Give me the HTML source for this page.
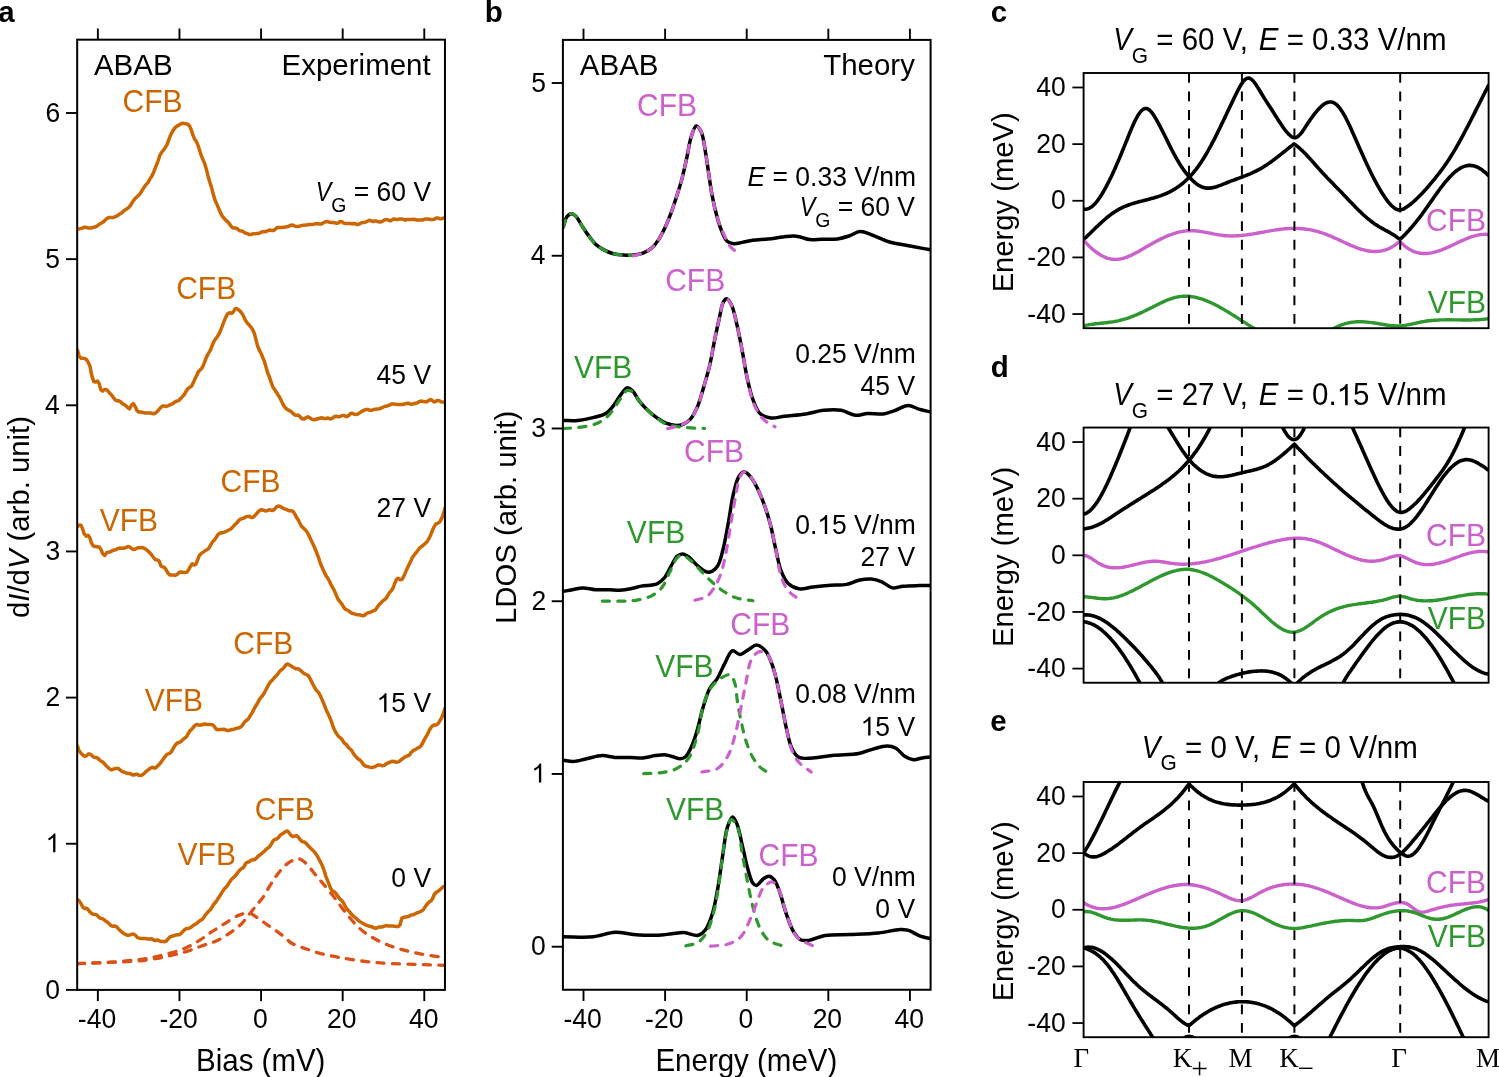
<!DOCTYPE html>
<html><head><meta charset="utf-8"><style>html,body{margin:0;padding:0;background:#fff;overflow:hidden}svg{display:block;will-change:transform;}</style></head>
<body><svg width="1499" height="1077" viewBox="0 0 1499 1077">
<rect width="1499" height="1077" fill="#fff"/>
<defs><clipPath id="ca"><rect x="77.2" y="39.7" width="367.8" height="950.2"/></clipPath><clipPath id="cb"><rect x="562.9" y="39.9" width="367.8" height="949.9"/></clipPath><clipPath id="cc"><rect x="1083.6" y="73" width="405" height="255.2"/></clipPath><clipPath id="cd"><rect x="1083.6" y="427.55" width="405" height="255.2"/></clipPath><clipPath id="ce"><rect x="1083.6" y="782" width="405" height="255.2"/></clipPath></defs>
<g clip-path="url(#ca)">
<path d="M77.50,963.60 C87.67,963.20 97.29,963.15 108.00,962.40 C119.98,961.57 136.46,960.03 146.00,958.60 C151.83,957.73 154.74,957.11 160.00,955.80 C166.98,954.06 177.05,951.50 184.10,948.60 C190.03,946.16 194.99,943.16 199.80,940.20 C204.18,937.50 207.74,934.47 211.90,931.70 C216.19,928.84 220.76,926.03 225.20,923.30 C229.59,920.60 234.07,917.12 238.40,915.40 C242.09,913.94 246.13,912.50 249.30,913.00 C252.04,913.43 253.83,915.49 256.50,917.20 C260.06,919.48 264.56,922.88 268.60,925.70 C272.63,928.51 276.73,931.12 280.70,934.10 C284.76,937.15 288.29,941.28 292.70,943.80 C297.12,946.32 302.50,947.55 307.20,949.20 C311.58,950.73 315.29,952.14 320.00,953.40 C325.61,954.90 331.45,956.03 338.70,957.30 C348.63,959.05 360.31,961.11 374.20,962.40 C393.73,964.21 421.40,964.40 445.00,965.40" fill="none" stroke="#DA5218" stroke-width="3.30" stroke-linejoin="round" stroke-linecap="round" stroke-dasharray="7.1 8.3"/>
<path d="M77.50,963.60 C100.33,962.40 126.57,962.49 146.00,960.00 C160.63,958.13 174.02,955.01 184.10,952.20 C190.94,950.29 195.47,948.13 201.00,946.20 C206.33,944.34 211.79,943.07 216.70,940.80 C221.44,938.61 225.78,935.82 230.00,932.90 C234.21,929.99 238.65,926.65 242.00,923.30 C244.92,920.38 246.88,917.23 249.30,914.20 C251.71,911.19 254.18,908.03 256.50,905.20 C258.60,902.63 260.59,900.72 262.60,897.90 C265.04,894.47 267.36,889.78 269.80,885.90 C272.16,882.15 274.28,878.54 277.00,875.00 C279.88,871.26 283.35,866.81 286.70,864.10 C289.42,861.89 292.80,860.11 295.10,859.30 C296.53,858.79 297.47,858.44 298.80,858.70 C300.62,859.05 302.66,860.50 304.80,862.30 C308.11,865.09 312.72,871.50 315.70,875.00 C317.79,877.46 318.86,878.74 321.00,881.30 C324.31,885.26 329.27,891.02 333.60,896.50 C338.50,902.70 343.52,910.60 348.80,916.70 C353.68,922.34 358.04,927.51 364.00,932.00 C370.56,936.94 378.89,941.24 386.90,944.60 C394.95,947.98 403.15,950.08 412.20,952.20 C422.36,954.58 434.07,955.93 445.00,957.80" fill="none" stroke="#DA5218" stroke-width="3.30" stroke-linejoin="round" stroke-linecap="round" stroke-dasharray="7.1 8.3"/>
<path d="M77.5,228.9 79.3,228.9 81.4,228.4 83.1,227.7 84.9,227.2 86.6,227.6 88.7,228.1 90.4,228.1 92.0,227.8 93.7,227.3 95.7,226.8 97.5,225.7 99.4,224.2 101.1,223.3 103.0,222.1 104.7,220.6 106.6,218.7 108.6,217.6 110.6,217.5 112.4,217.5 114.2,217.2 116.1,216.4 118.0,215.3 119.8,213.9 121.7,212.8 123.6,211.2 125.5,209.6 127.5,208.5 129.3,206.9 131.0,204.6 132.7,201.7 134.5,199.2 136.2,197.5 137.8,196.1 139.4,194.5 141.3,191.9 143.1,188.9 144.8,186.1 146.5,184.2 148.1,182.3 149.7,179.4 151.6,176.4 153.4,172.9 155.0,168.6 156.6,164.8 158.2,160.6 159.8,155.5 161.6,152.3 163.5,150.1 165.1,147.7 166.9,144.8 168.5,140.6 170.2,136.0 171.8,132.8 173.6,129.7 175.3,127.4 177.1,126.1 179.0,125.1 180.9,123.8 182.5,123.2 184.2,123.5 185.9,123.7 187.9,124.3 189.6,126.1 191.2,129.8 192.9,134.8 194.6,139.1 196.3,141.6 197.9,145.0 199.6,150.3 201.2,155.4 202.8,159.2 204.5,162.9 206.2,168.7 208.0,175.9 209.7,181.7 211.5,187.4 213.2,194.1 214.9,199.7 216.7,203.9 218.4,207.8 220.1,211.7 221.7,215.2 223.5,217.7 225.2,219.7 226.9,221.1 228.7,222.7 230.5,225.5 232.4,227.7 234.4,228.0 236.1,227.9 238.0,229.4 239.9,230.8 241.8,230.9 243.8,232.1 245.6,233.2 247.4,233.4 249.0,234.4 250.9,234.5 252.8,233.8 254.8,233.7 256.4,233.6 258.0,233.4 259.8,233.1 261.6,232.0 263.6,231.6 265.7,231.8 267.7,230.8 269.8,230.0 271.8,230.6 273.8,230.4 275.7,228.7 277.5,227.5 279.4,227.5 281.3,227.4 283.2,227.3 285.3,227.2 286.9,226.7 288.9,226.2 290.8,225.3 292.8,225.1 294.8,226.1 296.9,226.6 299.1,226.2 301.2,225.6 303.3,225.2 305.3,225.1 307.3,224.9 309.4,224.5 311.5,224.4 313.5,224.2 315.6,223.8 317.6,223.6 319.5,223.9 321.5,223.9 323.5,222.8 325.5,221.8 327.5,221.6 329.6,222.2 331.7,222.6 333.8,222.5 335.8,223.2 337.9,223.2 339.9,221.6 341.9,221.7 343.8,223.1 345.4,223.6 347.5,223.5 349.6,223.4 351.6,223.7 353.5,223.6 355.5,223.8 357.5,224.7 359.5,223.9 361.5,222.7 363.4,222.5 365.3,222.3 367.3,221.3 369.3,220.2 371.4,220.9 373.0,221.6 374.6,220.9 376.5,221.1 378.4,221.8 380.3,222.1 382.3,221.4 384.4,219.9 386.5,219.6 388.6,220.1 390.2,220.8 391.8,220.1 393.4,219.0 395.5,219.3 397.4,219.4 399.3,219.1 401.2,218.9 403.2,219.4 405.2,220.0 407.2,219.5 409.2,219.4 411.3,219.6 413.5,219.3 415.1,219.4 416.7,220.1 418.7,219.9 420.8,219.9 422.4,220.1 424.1,219.3 425.8,219.1 427.6,219.1 429.4,219.2 431.1,219.6 432.9,219.6 434.6,219.1 436.2,218.0 438.3,218.1 440.3,218.9 442.0,218.6 443.8,218.0 445.0,217.8" fill="none" stroke="#CC6600" stroke-width="3.50" stroke-linejoin="round" stroke-linecap="round"/>
<path d="M77.5,350.3 79.2,356.3 81.1,358.2 82.8,358.2 84.7,358.6 86.6,359.8 88.3,362.4 90.0,366.3 91.6,374.9 93.7,381.5 95.6,382.0 97.5,381.0 99.2,383.7 100.8,389.6 102.6,391.1 104.6,389.5 106.2,389.4 108.1,391.3 109.8,393.2 111.6,395.0 113.5,397.7 115.2,399.9 116.9,400.8 118.6,400.8 120.3,401.6 122.2,403.5 124.2,404.6 125.9,405.7 127.9,407.7 129.6,408.8 131.5,405.1 133.4,403.6 135.2,406.6 137.1,410.7 138.8,412.1 140.6,412.0 142.8,412.5 144.5,412.9 146.1,413.0 148.1,413.0 149.8,412.9 151.4,413.3 153.5,413.8 155.3,413.1 157.1,411.7 158.9,409.7 160.7,407.5 162.5,406.1 164.3,406.1 166.3,406.4 168.4,405.6 170.4,404.7 172.2,404.0 173.9,402.8 175.7,401.5 177.4,401.0 179.0,400.3 180.9,398.3 182.7,396.4 184.6,394.1 186.3,390.9 188.0,388.4 189.9,387.3 191.8,385.8 193.5,382.3 195.1,378.6 196.8,375.2 198.4,371.8 200.2,369.9 202.0,368.1 203.7,364.4 205.4,359.8 207.1,355.8 208.7,353.0 210.5,349.8 212.2,345.5 213.8,341.7 215.6,338.9 217.3,336.7 219.0,334.0 220.7,330.2 222.3,326.0 224.1,321.1 225.7,317.4 227.7,313.9 229.7,312.8 231.7,313.4 233.5,311.7 235.1,308.8 236.8,308.5 238.5,309.9 240.3,311.4 242.0,313.5 243.7,316.5 245.5,320.4 247.2,323.0 249.0,324.8 250.7,326.8 252.5,329.5 254.3,333.3 255.9,339.4 257.7,346.3 259.3,350.1 261.1,353.5 262.7,357.4 264.4,361.4 266.1,367.3 267.7,373.0 269.5,377.2 271.2,382.4 273.1,387.5 274.9,390.0 276.7,392.7 278.6,395.7 280.3,398.7 282.0,402.2 283.9,405.9 285.6,408.1 287.4,409.5 289.4,410.6 291.0,411.4 292.7,413.0 294.4,414.7 296.2,415.2 298.0,415.1 299.9,416.5 302.0,418.7 304.1,419.1 305.9,417.7 307.9,416.8 310.0,418.0 312.1,419.4 313.7,419.8 315.8,419.3 317.9,418.8 319.9,418.3 321.9,417.8 324.0,418.5 326.0,418.5 328.0,418.0 330.1,418.9 332.1,418.6 334.1,416.7 336.2,416.2 338.2,416.7 340.3,416.4 342.4,415.5 344.4,415.6 346.4,416.6 348.3,415.8 350.4,413.6 352.4,413.3 354.3,414.3 356.3,414.5 358.1,413.9 360.0,412.6 362.0,411.2 364.0,410.3 366.0,409.4 367.9,409.5 370.0,410.3 372.0,410.2 373.6,409.5 375.6,409.2 377.5,409.1 379.4,408.7 381.4,408.0 383.4,407.0 385.4,406.2 387.4,405.9 389.4,405.1 391.4,404.1 393.5,404.0 395.5,404.2 397.5,404.4 399.5,404.4 401.6,404.4 403.6,404.2 405.6,403.6 407.7,403.2 409.9,403.8 411.5,404.3 413.6,403.8 415.6,403.2 417.6,402.7 419.4,401.6 421.0,401.1 423.1,401.4 424.9,401.7 426.7,401.7 428.8,400.4 430.4,399.4 432.4,400.6 434.0,402.0 435.8,401.4 437.6,400.4 439.3,400.8 440.9,401.8 442.9,402.1 444.7,402.3 445.0,403.0" fill="none" stroke="#CC6600" stroke-width="3.50" stroke-linejoin="round" stroke-linecap="round"/>
<path d="M77.5,526.6 79.2,525.1 80.9,525.3 82.5,528.6 84.1,533.7 86.2,536.2 88.0,535.2 89.8,537.5 91.4,542.9 93.2,545.8 95.1,546.6 97.2,546.7 99.2,547.0 101.0,549.6 102.7,553.7 104.7,555.5 106.5,552.9 108.4,552.0 110.1,552.0 112.2,550.7 114.2,550.0 116.2,549.6 117.8,548.6 119.9,548.0 122.0,548.3 124.0,548.2 126.0,547.5 127.9,546.6 129.7,546.9 131.5,548.5 133.4,549.5 135.4,549.0 137.0,548.1 138.6,547.7 140.7,547.7 142.5,547.5 144.5,548.4 146.3,549.7 148.1,551.1 149.9,553.0 151.8,555.0 153.4,557.4 155.5,559.7 157.5,560.1 159.2,561.1 160.9,565.9 162.8,566.8 164.5,567.5 166.3,570.1 168.1,573.3 169.8,575.0 171.6,575.1 173.3,574.9 175.0,575.4 177.0,574.7 178.9,572.6 180.6,572.0 182.5,572.3 184.6,572.6 186.6,572.3 188.4,570.2 190.3,566.6 192.3,563.8 194.4,565.1 196.0,564.0 197.7,559.7 199.3,555.7 201.3,553.4 203.3,552.1 205.3,550.5 207.3,549.6 209.0,548.0 210.7,545.0 212.4,542.2 214.2,540.1 216.0,537.7 217.9,534.7 219.6,533.2 221.7,532.8 223.6,532.5 225.5,531.7 227.5,530.7 229.3,529.8 231.1,528.8 232.9,526.9 234.5,525.1 236.2,523.5 238.0,521.5 239.9,519.4 241.6,518.8 243.5,518.3 245.4,517.0 247.2,516.6 249.3,516.2 251.0,517.3 252.8,517.6 254.6,515.9 256.4,513.8 258.1,511.8 259.9,510.3 261.6,509.8 263.3,510.2 265.2,510.9 267.0,510.7 269.0,509.8 270.8,510.1 272.8,510.5 274.6,509.2 276.5,506.8 278.3,506.0 280.2,506.7 282.3,507.7 283.9,508.7 286.0,509.4 287.6,510.0 289.3,510.8 291.3,510.8 293.1,511.4 294.8,514.0 296.5,517.4 298.3,520.0 299.9,523.3 301.5,526.3 303.3,527.9 305.2,529.7 307.0,532.0 308.7,535.0 310.3,538.5 312.1,542.3 313.9,546.0 315.5,549.8 317.1,553.8 318.9,558.7 320.6,564.0 322.5,568.3 324.2,572.1 325.9,575.6 327.7,578.0 329.5,581.3 331.2,585.1 333.0,588.2 334.6,591.1 336.2,595.0 338.0,599.1 339.7,601.4 341.6,603.7 343.5,606.9 345.2,609.1 347.0,610.0 348.8,611.0 350.6,612.4 352.4,613.4 354.3,613.9 356.2,614.5 358.2,614.7 360.2,615.0 362.1,615.7 364.0,615.5 366.1,613.9 368.0,612.8 369.8,612.5 371.8,611.6 373.7,610.7 375.6,609.7 377.3,607.3 379.0,604.8 380.6,603.3 382.3,601.3 384.2,599.9 386.3,598.1 388.0,595.1 389.8,592.2 391.5,590.6 393.3,587.5 394.9,582.9 396.6,579.3 398.3,578.3 400.3,579.8 402.1,579.4 403.9,576.1 405.6,572.1 407.3,568.2 409.1,564.4 410.8,560.9 412.4,557.6 414.2,555.0 415.9,552.9 417.6,550.7 419.3,548.4 421.2,546.7 423.2,545.3 425.1,543.6 427.0,541.8 428.8,538.9 430.5,535.3 432.1,531.3 433.9,527.1 435.7,524.2 437.6,523.3 439.4,522.3 441.1,519.5 442.8,515.6 444.4,510.9 445.0,508.0" fill="none" stroke="#CC6600" stroke-width="3.50" stroke-linejoin="round" stroke-linecap="round"/>
<path d="M77.5,746.4 79.3,751.2 81.0,753.2 82.8,755.0 84.7,756.4 86.4,755.9 88.1,754.1 89.7,753.9 91.6,755.2 93.5,756.9 95.2,757.6 96.8,757.6 98.6,759.0 100.4,760.8 102.2,761.7 103.9,763.1 105.6,765.2 107.2,766.7 109.2,768.6 111.2,769.9 112.9,769.3 114.9,768.6 116.7,768.4 118.5,768.6 120.4,770.2 122.4,771.6 124.4,772.2 126.3,773.0 128.4,773.6 130.1,773.5 131.7,774.5 133.7,775.1 135.5,774.3 137.2,774.2 138.8,775.3 141.0,775.6 142.9,774.5 144.8,772.8 146.7,770.9 148.6,769.6 150.3,768.2 152.3,767.2 154.3,768.1 156.1,767.7 157.8,765.7 159.7,763.9 161.5,761.5 163.1,759.2 164.9,756.9 166.7,754.5 168.7,753.7 170.6,752.7 172.4,750.0 174.0,747.0 175.7,744.6 177.3,743.0 179.0,742.5 180.9,741.6 182.8,739.6 184.7,738.1 186.6,736.6 188.3,733.5 189.9,730.8 191.6,729.4 193.2,727.5 195.2,725.1 197.1,724.5 199.1,725.2 201.2,725.1 203.2,724.3 205.4,724.1 207.1,724.4 208.7,724.6 210.7,724.6 212.6,724.7 214.2,726.2 215.9,728.9 217.8,729.8 219.6,729.5 221.7,729.5 223.3,729.2 225.0,729.5 226.7,730.4 228.7,730.5 230.8,729.8 232.4,729.5 234.1,729.2 236.2,728.4 238.1,728.1 239.8,727.5 241.8,726.1 243.6,723.5 245.3,721.2 247.1,720.0 248.8,718.2 250.6,715.2 252.4,712.3 254.2,708.7 256.1,705.5 257.7,702.9 259.3,699.7 261.0,697.3 262.6,695.5 264.4,692.8 266.2,689.3 268.0,685.8 269.8,682.7 271.6,680.8 273.2,679.1 274.8,677.2 276.5,675.6 278.3,673.2 280.1,670.8 282.0,669.4 284.0,667.5 285.9,664.9 287.8,663.9 289.9,665.2 291.5,666.4 293.6,667.5 295.6,668.7 297.4,668.7 299.1,669.2 300.7,670.6 302.4,672.2 304.2,673.7 305.8,674.3 307.5,675.0 309.1,676.7 310.8,680.1 312.5,683.5 314.3,686.8 316.1,689.9 317.7,691.5 319.3,693.7 321.1,697.4 322.8,701.4 324.5,705.4 326.1,709.7 327.9,713.5 329.6,717.1 331.4,721.6 333.1,726.7 334.7,730.4 336.5,733.6 338.4,736.3 340.1,737.6 341.8,739.2 343.5,742.0 345.1,743.7 346.8,745.0 348.4,747.5 350.1,749.0 351.7,750.5 353.4,753.5 355.1,755.8 356.8,757.6 358.4,759.1 360.2,760.3 361.9,762.2 363.7,764.8 365.3,766.0 367.2,766.5 369.2,767.1 370.9,767.4 372.5,767.4 374.2,767.0 376.2,766.0 378.3,764.9 380.4,765.1 382.4,765.8 384.3,765.4 386.4,763.7 388.3,762.7 390.1,762.2 391.9,761.2 393.9,761.5 395.8,762.2 397.8,762.0 399.5,761.2 401.4,759.7 403.0,758.4 404.7,757.2 406.4,756.1 408.0,755.8 409.7,754.7 411.5,752.1 413.4,750.4 415.3,749.6 417.1,748.4 418.7,747.7 420.6,746.3 422.3,743.8 424.0,740.4 425.6,737.4 427.4,734.3 429.0,730.9 430.7,728.0 432.5,725.8 434.4,724.9 436.2,725.0 437.9,723.9 439.6,721.2 441.3,718.4 443.1,714.2 444.8,709.1 445.0,708.3" fill="none" stroke="#CC6600" stroke-width="3.50" stroke-linejoin="round" stroke-linecap="round"/>
<path d="M77.5,899.7 79.2,901.0 80.8,903.2 82.7,907.1 84.5,908.5 86.4,908.2 88.1,909.5 89.8,911.9 91.5,913.4 93.2,914.2 95.0,914.4 96.8,915.0 98.6,916.9 100.4,918.3 102.1,918.6 103.8,919.6 105.6,921.0 107.3,922.0 109.3,923.9 111.3,925.8 113.3,926.3 115.0,926.0 116.7,926.8 118.6,929.0 120.3,930.7 122.0,932.1 123.7,933.4 125.7,934.6 127.8,935.2 129.8,934.9 131.8,934.3 133.7,934.1 135.6,935.4 137.5,937.6 139.4,938.2 141.3,938.4 143.3,938.6 145.4,938.4 147.4,939.1 149.4,939.1 151.6,938.7 153.7,940.0 155.7,940.5 157.3,939.9 159.0,940.6 160.7,941.4 162.8,941.5 164.7,941.7 166.5,940.9 168.3,938.7 170.1,936.8 171.8,936.2 173.7,935.8 175.9,934.9 177.7,934.7 179.4,934.7 181.2,933.3 183.1,931.2 184.9,929.4 186.6,928.6 188.5,928.4 190.1,927.8 191.8,926.7 193.4,925.3 195.0,924.3 196.7,923.5 198.4,921.8 200.1,920.5 201.8,919.7 203.5,917.9 205.1,915.4 206.8,913.2 208.4,911.5 210.3,909.7 212.1,907.0 214.0,904.0 215.8,902.0 217.5,899.4 219.2,896.7 220.8,894.4 222.4,891.7 224.1,889.1 225.9,887.4 227.8,885.0 229.7,881.9 231.6,879.3 233.2,877.8 235.1,876.1 237.0,873.6 238.7,871.3 240.5,869.3 242.4,868.3 244.0,866.7 245.6,863.4 247.3,862.2 249.3,861.7 251.0,860.3 252.9,859.6 254.7,859.7 256.5,858.0 258.3,856.0 260.3,854.7 262.1,853.1 264.0,851.6 265.8,849.7 267.7,848.1 269.5,846.8 271.3,844.1 273.1,840.9 274.9,839.3 276.6,839.1 278.3,837.7 279.9,835.4 281.5,834.3 283.5,833.2 285.5,831.6 287.4,830.9 289.1,832.7 290.9,835.3 292.7,836.4 294.6,836.1 296.5,835.7 298.4,837.2 300.2,839.8 302.2,841.6 304.2,842.0 306.2,843.3 308.1,845.7 309.9,847.5 311.8,849.2 313.6,851.1 315.4,853.2 317.2,855.9 318.9,859.1 320.6,862.3 322.2,865.4 323.8,869.6 325.6,875.5 327.3,880.0 329.0,884.1 330.7,888.5 332.5,891.1 334.2,891.7 336.2,893.7 337.9,896.4 339.7,898.8 341.6,900.4 343.5,902.7 345.3,906.4 347.1,909.3 349.0,911.2 350.8,913.4 352.5,915.4 354.3,917.0 356.1,918.3 357.9,920.0 359.9,921.7 361.9,922.7 363.8,923.8 365.6,924.9 367.6,925.6 369.5,926.3 371.5,926.7 373.6,927.7 375.6,928.4 377.5,927.7 379.6,926.9 381.7,927.0 383.8,926.5 385.9,925.6 387.5,925.7 389.2,926.1 390.8,925.9 392.8,926.0 394.5,926.3 396.5,926.5 398.3,926.5 400.0,924.7 401.8,918.3 403.7,917.2 405.7,917.0 407.4,916.8 409.1,916.2 411.0,915.0 412.8,914.7 414.8,914.1 416.7,912.9 418.5,912.3 420.3,911.7 422.0,910.8 423.7,909.2 425.6,906.1 427.4,903.8 429.3,901.9 430.9,901.0 432.5,898.8 434.3,894.5 436.2,892.3 438.0,891.3 439.8,889.8 441.9,888.0 443.7,886.4 445.0,886.6" fill="none" stroke="#CC6600" stroke-width="3.50" stroke-linejoin="round" stroke-linecap="round"/>
</g>
<g clip-path="url(#cb)">
<path d="M563.30,227.00 C564.43,223.67 565.00,219.27 566.70,217.00 C567.96,215.32 569.82,213.78 571.40,213.70 C572.89,213.62 574.47,214.85 575.90,216.20 C577.98,218.17 579.67,222.28 581.70,225.40 C583.83,228.68 586.10,232.27 588.40,235.40 C590.57,238.35 592.56,241.31 595.10,243.70 C597.58,246.03 600.40,247.94 603.40,249.60 C606.51,251.32 610.08,252.88 613.50,253.80 C616.78,254.68 620.16,254.88 623.50,255.10 C626.83,255.32 630.18,255.46 633.50,255.10 C636.88,254.74 640.49,254.14 643.60,252.90 C646.61,251.70 649.44,250.04 651.90,247.90 C654.48,245.65 656.51,242.77 658.60,239.60 C661.02,235.94 663.18,231.56 665.30,227.00 C667.68,221.88 670.00,215.75 672.00,210.30 C673.87,205.19 675.37,200.45 677.00,195.30 C678.71,189.90 680.42,184.56 682.00,178.60 C683.78,171.84 685.44,163.92 687.00,156.80 C688.49,150.00 689.36,142.38 691.20,136.80 C692.61,132.53 694.31,126.16 696.20,125.90 C697.72,125.69 699.84,129.02 701.20,131.80 C703.41,136.32 704.17,144.97 705.40,151.80 C706.68,158.89 707.58,166.34 708.70,173.60 C709.82,180.84 710.71,188.09 712.10,195.30 C713.50,202.56 715.26,210.47 717.10,217.00 C718.65,222.50 720.22,227.68 722.10,232.00 C723.63,235.52 724.87,239.26 727.10,241.20 C728.95,242.80 731.41,243.46 733.80,243.70 C736.41,243.97 739.25,242.92 742.20,242.40 C745.51,241.81 748.86,240.85 752.70,240.30 C757.28,239.65 762.85,239.55 767.90,239.00 C772.95,238.45 778.43,237.52 783.00,237.00 C786.78,236.57 790.21,235.90 793.40,236.00 C796.14,236.08 798.41,236.63 801.00,237.20 C803.77,237.81 806.36,239.20 809.50,239.60 C813.23,240.07 817.62,239.41 822.00,239.30 C826.87,239.18 832.66,239.55 837.40,238.90 C841.57,238.33 845.22,237.22 849.00,236.00 C852.78,234.78 856.30,231.79 860.10,231.60 C863.97,231.41 867.73,233.53 872.00,235.00 C877.16,236.78 882.78,240.00 888.80,241.80 C895.37,243.76 902.95,244.65 910.00,246.00 C917.01,247.35 924.00,248.60 931.00,249.90" fill="none" stroke="#000" stroke-width="3.50" stroke-linejoin="round" stroke-linecap="round"/>
<path d="M563.30,227.00 C564.43,223.67 565.00,219.27 566.70,217.00 C567.96,215.32 569.82,213.78 571.40,213.70 C572.89,213.62 574.47,214.85 575.90,216.20 C577.98,218.17 579.67,222.28 581.70,225.40 C583.83,228.68 586.10,232.27 588.40,235.40 C590.57,238.35 592.56,241.31 595.10,243.70 C597.58,246.03 600.40,247.94 603.40,249.60 C606.51,251.32 610.08,252.88 613.50,253.80 C616.78,254.68 620.16,254.80 623.50,255.10 C626.83,255.40 630.17,255.43 633.50,255.60" fill="none" stroke="#2E982E" stroke-width="3.20" stroke-linejoin="round" stroke-linecap="round" stroke-dasharray="7.1 8.3"/>
<path d="M633.50,255.60 C636.87,254.70 640.48,254.22 643.60,252.90 C646.60,251.63 649.44,250.04 651.90,247.90 C654.48,245.65 656.51,242.77 658.60,239.60 C661.02,235.94 663.18,231.56 665.30,227.00 C667.68,221.88 670.00,215.75 672.00,210.30 C673.87,205.19 675.37,200.45 677.00,195.30 C678.71,189.90 680.42,184.56 682.00,178.60 C683.78,171.84 685.44,163.92 687.00,156.80 C688.49,150.00 689.36,142.38 691.20,136.80 C692.61,132.53 694.31,126.16 696.20,125.90 C697.72,125.69 699.84,129.02 701.20,131.80 C703.41,136.32 704.17,144.97 705.40,151.80 C706.68,158.89 707.58,166.34 708.70,173.60 C709.82,180.84 710.71,188.09 712.10,195.30 C713.50,202.56 715.02,210.26 717.10,217.00 C718.99,223.14 721.40,228.98 723.80,234.20 C725.91,238.79 727.83,243.53 730.50,246.80 C732.70,249.50 735.50,250.93 738.00,253.00" fill="none" stroke="#CC60CC" stroke-width="3.20" stroke-linejoin="round" stroke-linecap="round" stroke-dasharray="7.1 8.3"/>
<path d="M563.30,420.50 C568.07,420.50 572.86,420.93 577.60,420.50 C582.36,420.07 587.11,419.06 591.80,417.90 C596.54,416.73 602.22,415.74 605.90,413.50 C608.92,411.66 610.68,409.11 612.90,406.40 C615.41,403.34 617.54,399.09 620.00,395.90 C622.25,392.98 624.65,388.35 627.00,387.90 C628.76,387.56 630.59,389.09 632.30,390.60 C634.79,392.80 636.78,397.76 639.40,401.10 C642.07,404.50 645.15,407.92 648.20,410.80 C651.03,413.47 653.98,415.80 657.00,417.90 C659.89,419.91 662.70,421.94 665.90,423.20 C669.16,424.49 673.24,425.47 676.40,425.50 C678.99,425.53 681.24,425.10 683.50,424.10 C686.00,422.99 688.47,421.23 690.60,418.80 C693.31,415.73 695.49,411.29 697.60,406.40 C700.34,400.05 702.56,390.83 704.70,383.50 C706.66,376.78 708.43,370.87 710.00,364.10 C711.69,356.81 712.82,348.97 714.40,341.20 C716.04,333.11 718.07,323.59 719.70,316.50 C720.94,311.11 721.53,305.31 723.20,302.30 C724.17,300.56 725.40,298.74 726.60,298.80 C728.13,298.88 730.05,302.14 731.50,305.00 C733.86,309.66 735.38,318.05 737.10,325.30 C739.05,333.51 740.67,342.82 742.40,351.80 C744.18,361.05 745.66,371.51 747.60,380.00 C749.22,387.11 750.65,393.55 752.90,399.40 C754.89,404.58 756.67,410.41 760.00,413.50 C762.84,416.14 766.74,417.37 770.60,417.90 C774.89,418.49 779.52,416.79 784.70,416.20 C791.05,415.47 799.19,414.95 805.90,413.90 C812.06,412.94 817.59,410.90 823.50,410.30 C829.36,409.71 835.71,409.36 841.20,410.30 C846.25,411.17 850.71,414.85 855.30,415.30 C859.49,415.71 863.23,413.76 867.60,413.50 C872.55,413.20 878.78,414.50 883.50,413.90 C887.43,413.40 890.34,412.14 894.10,410.90 C898.49,409.46 903.82,405.69 908.20,405.60 C911.97,405.52 915.12,408.04 918.80,409.10 C922.70,410.22 926.93,411.10 931.00,412.10" fill="none" stroke="#000" stroke-width="3.50" stroke-linejoin="round" stroke-linecap="round"/>
<path d="M563.50,428.50 C568.20,428.20 572.66,428.24 577.60,427.60 C583.19,426.87 590.29,426.00 595.30,424.10 C599.44,422.53 602.89,420.37 605.90,417.90 C608.69,415.61 610.65,412.91 612.90,410.00 C615.37,406.80 617.57,402.72 620.00,399.40 C622.28,396.28 624.54,391.52 627.00,390.60 C628.71,389.97 630.60,390.54 632.30,391.60 C634.82,393.17 636.83,397.98 639.40,401.10 C642.10,404.38 645.15,407.92 648.20,410.80 C651.03,413.47 654.01,415.68 657.00,417.90 C659.92,420.07 662.24,422.48 665.90,424.00 C670.62,425.96 677.34,426.55 683.50,427.30 C690.21,428.12 697.63,428.10 704.70,428.50" fill="none" stroke="#2E982E" stroke-width="3.20" stroke-linejoin="round" stroke-linecap="round" stroke-dasharray="7.1 8.3"/>
<path d="M667.60,428.50 C670.53,427.83 673.64,427.28 676.40,426.50 C678.91,425.79 681.22,425.30 683.50,424.10 C685.97,422.80 688.47,421.23 690.60,418.80 C693.31,415.73 695.49,411.29 697.60,406.40 C700.34,400.05 702.56,390.83 704.70,383.50 C706.66,376.78 708.43,370.87 710.00,364.10 C711.69,356.81 712.82,348.97 714.40,341.20 C716.04,333.11 718.07,323.59 719.70,316.50 C720.94,311.11 721.53,305.31 723.20,302.30 C724.17,300.56 725.40,298.74 726.60,298.80 C728.13,298.88 730.05,302.14 731.50,305.00 C733.86,309.66 735.38,318.05 737.10,325.30 C739.05,333.51 740.67,342.82 742.40,351.80 C744.18,361.05 745.71,371.30 747.60,380.00 C749.25,387.60 750.58,394.96 752.90,401.20 C754.87,406.50 757.29,411.58 760.00,415.30 C762.15,418.25 764.53,420.36 767.10,422.30 C769.55,424.16 772.37,425.30 775.00,426.80" fill="none" stroke="#CC60CC" stroke-width="3.20" stroke-linejoin="round" stroke-linecap="round" stroke-dasharray="7.1 8.3"/>
<path d="M563.30,591.40 C566.30,590.83 569.17,590.26 572.30,589.70 C575.69,589.09 579.22,587.94 582.90,587.90 C586.87,587.85 591.02,589.39 595.30,589.70 C599.84,590.03 605.04,589.60 609.40,589.70 C613.19,589.79 616.47,590.35 620.00,590.20 C623.54,590.05 627.09,589.48 630.60,588.80 C634.15,588.12 637.29,586.88 641.20,586.10 C645.92,585.16 652.94,585.54 657.00,583.80 C660.05,582.49 661.95,580.70 664.10,578.20 C666.81,575.06 668.88,569.66 671.20,565.80 C673.27,562.35 674.99,558.02 677.30,556.10 C678.93,554.75 680.78,553.93 682.60,554.00 C684.60,554.07 686.68,555.50 688.80,557.00 C691.64,559.02 694.74,563.32 697.60,565.80 C700.02,567.89 702.39,570.11 704.70,571.10 C706.50,571.87 708.18,572.47 710.00,572.00 C712.44,571.37 715.58,568.80 717.60,565.90 C720.25,562.09 721.30,556.03 722.90,550.00 C724.93,542.34 726.48,532.62 728.20,523.50 C730.02,513.82 731.41,501.99 733.50,493.50 C735.08,487.06 736.44,480.55 738.80,476.80 C740.32,474.38 742.17,471.87 744.10,471.80 C746.26,471.72 749.05,475.05 751.20,477.60 C753.88,480.78 756.00,485.43 758.20,490.00 C760.74,495.28 763.22,501.68 765.30,507.60 C767.35,513.44 768.95,518.87 770.60,525.30 C772.53,532.81 774.06,542.10 775.90,550.00 C777.61,557.35 778.81,565.23 781.20,571.20 C783.13,576.01 785.07,580.53 788.20,583.50 C791.07,586.22 794.90,588.14 798.80,588.80 C803.07,589.52 807.93,587.56 812.90,587.00 C818.46,586.38 824.85,585.74 830.60,585.30 C836.04,584.89 841.60,585.34 846.50,584.40 C850.92,583.55 854.64,581.18 858.80,580.30 C862.88,579.43 867.25,578.80 871.20,579.10 C874.90,579.38 878.37,580.40 881.80,581.80 C885.41,583.28 888.67,587.23 892.30,587.90 C895.72,588.53 899.00,586.59 902.90,586.20 C907.65,585.73 913.85,585.69 918.80,585.60 C923.13,585.52 926.93,585.60 931.00,585.60" fill="none" stroke="#000" stroke-width="3.50" stroke-linejoin="round" stroke-linecap="round"/>
<path d="M602.30,601.10 C608.80,601.10 615.83,601.27 621.80,601.10 C626.88,600.96 631.11,601.11 635.90,600.30 C641.06,599.43 647.17,598.19 651.70,595.80 C655.85,593.61 659.41,590.64 662.30,587.00 C665.40,583.11 667.05,577.60 669.40,572.90 C671.75,568.20 673.82,561.87 676.40,558.80 C678.07,556.82 679.68,554.97 681.70,554.90 C684.26,554.82 687.64,558.22 690.60,560.60 C694.11,563.42 697.59,567.59 701.10,571.10 C704.62,574.62 708.09,578.41 711.70,581.70 C715.16,584.86 718.45,587.89 722.30,590.50 C726.29,593.21 730.49,595.90 735.30,597.60 C740.59,599.47 747.03,599.73 752.90,600.80" fill="none" stroke="#2E982E" stroke-width="3.20" stroke-linejoin="round" stroke-linecap="round" stroke-dasharray="7.1 8.3"/>
<path d="M695.00,600.30 C698.80,599.10 703.26,598.72 706.40,596.70 C709.36,594.80 711.34,591.99 713.50,588.80 C716.13,584.92 718.55,580.00 720.50,574.70 C722.80,568.46 724.17,561.32 725.80,553.50 C727.77,544.01 729.39,531.63 731.10,521.70 C732.61,512.94 733.94,504.80 735.50,497.00 C736.92,489.91 737.81,481.11 740.00,476.80 C741.24,474.35 742.71,471.92 744.40,471.80 C746.36,471.66 749.12,475.07 751.20,477.60 C753.83,480.79 756.00,485.43 758.20,490.00 C760.74,495.28 763.22,501.68 765.30,507.60 C767.35,513.44 768.95,518.87 770.60,525.30 C772.53,532.81 774.30,541.99 775.90,550.00 C777.41,557.53 778.30,565.64 780.00,572.00 C781.35,577.05 782.57,581.48 784.70,585.30 C786.61,588.72 789.17,591.69 791.80,594.10 C794.21,596.31 797.07,597.63 799.70,599.40" fill="none" stroke="#CC60CC" stroke-width="3.20" stroke-linejoin="round" stroke-linecap="round" stroke-dasharray="7.1 8.3"/>
<path d="M563.30,760.20 C566.60,760.60 569.67,761.53 573.20,761.40 C577.32,761.25 581.88,759.72 586.50,758.80 C591.54,757.80 597.34,755.74 602.30,755.60 C606.67,755.48 610.30,757.05 614.70,757.40 C619.66,757.79 625.64,757.51 630.60,757.60 C634.96,757.68 638.81,758.23 642.90,757.90 C647.04,757.57 651.31,756.10 655.30,755.60 C658.96,755.14 662.75,754.61 665.90,754.90 C668.50,755.14 670.56,756.05 672.90,756.70 C675.26,757.35 677.81,758.84 680.00,758.80 C681.90,758.76 683.65,758.36 685.30,757.00 C687.93,754.83 690.31,749.17 692.30,744.70 C694.47,739.84 695.93,734.49 697.60,728.80 C699.49,722.36 700.87,714.76 702.90,708.00 C704.88,701.40 706.81,693.93 709.60,688.70 C711.79,684.59 714.83,682.43 717.20,678.60 C719.95,674.16 722.17,668.19 724.80,663.40 C727.25,658.93 729.41,651.57 732.40,650.70 C734.67,650.04 737.40,654.58 740.00,654.50 C742.85,654.41 745.96,651.02 748.80,649.40 C751.45,647.89 753.87,645.02 756.50,645.10 C759.36,645.18 762.88,648.02 765.30,650.70 C768.13,653.83 769.94,658.97 771.70,663.40 C773.49,667.92 774.52,672.19 775.90,677.60 C777.70,684.67 779.46,693.92 781.20,702.30 C783.00,710.97 784.58,720.68 786.50,728.80 C788.15,735.80 789.29,743.11 791.80,748.20 C793.70,752.06 795.55,755.72 798.80,757.40 C802.39,759.26 807.73,758.12 812.90,757.90 C819.26,757.62 826.75,756.02 834.10,755.30 C842.01,754.53 851.78,754.83 858.80,753.50 C864.22,752.47 868.16,750.34 872.90,749.10 C877.60,747.87 882.94,746.05 887.10,746.10 C890.39,746.14 893.14,746.74 895.90,748.20 C899.06,749.87 901.58,754.25 904.70,756.20 C907.48,757.94 910.53,759.44 913.50,759.70 C916.40,759.96 919.36,758.35 922.30,757.90 C925.20,757.45 928.10,757.30 931.00,757.00" fill="none" stroke="#000" stroke-width="3.50" stroke-linejoin="round" stroke-linecap="round"/>
<path d="M643.70,773.60 C649.13,773.33 654.80,773.48 660.00,772.80 C664.87,772.16 670.09,771.34 674.00,769.80 C677.16,768.55 679.52,767.00 682.00,765.00 C684.65,762.86 687.14,760.69 689.30,757.20 C692.38,752.23 694.62,744.70 696.90,736.90 C699.85,726.80 701.27,710.60 704.50,701.40 C706.71,695.10 708.91,690.35 712.10,686.20 C714.94,682.51 718.81,679.20 722.20,677.30 C724.89,675.79 728.22,673.93 730.30,674.80 C732.56,675.74 733.76,680.04 734.90,683.60 C736.44,688.39 736.40,695.28 737.40,701.40 C738.47,707.96 739.72,714.96 741.20,721.70 C742.69,728.49 744.23,735.79 746.30,742.00 C748.14,747.51 750.16,752.78 752.70,757.20 C754.92,761.07 757.53,764.67 760.30,767.30 C762.66,769.54 765.37,770.70 767.90,772.40" fill="none" stroke="#2E982E" stroke-width="3.20" stroke-linejoin="round" stroke-linecap="round" stroke-dasharray="7.1 8.3"/>
<path d="M701.80,772.00 C707.07,770.83 713.23,771.22 717.60,768.50 C722.07,765.72 725.35,760.51 728.20,755.30 C731.47,749.31 733.27,741.50 735.30,734.10 C737.45,726.24 738.86,717.78 740.60,709.40 C742.40,700.73 744.07,691.40 745.90,682.90 C747.61,674.97 748.41,665.42 751.20,660.00 C753.07,656.37 755.56,653.29 758.20,652.10 C760.36,651.13 763.32,651.05 765.30,652.10 C767.59,653.32 769.04,656.70 770.60,660.00 C772.77,664.58 774.25,671.20 775.90,677.60 C777.83,685.10 779.46,693.92 781.20,702.30 C783.00,710.97 784.63,720.48 786.50,728.80 C788.18,736.28 789.41,744.03 791.80,750.00 C793.73,754.81 795.69,758.70 798.80,762.30 C802.07,766.09 807.07,768.77 811.20,772.00" fill="none" stroke="#CC60CC" stroke-width="3.20" stroke-linejoin="round" stroke-linecap="round" stroke-dasharray="7.1 8.3"/>
<path d="M563.30,936.80 C573.37,936.80 584.33,937.77 593.50,936.80 C601.32,935.97 608.09,932.52 615.00,932.20 C621.35,931.91 626.84,933.89 633.40,934.40 C640.90,934.99 650.61,935.54 657.60,935.30 C662.97,935.12 667.24,934.26 671.80,933.80 C676.05,933.37 679.87,932.41 684.10,932.60 C688.65,932.81 694.45,936.16 698.20,935.30 C701.15,934.62 703.23,932.61 705.30,930.00 C708.21,926.35 710.36,920.09 712.30,914.10 C714.64,906.87 715.96,898.39 717.60,889.40 C719.55,878.71 721.17,865.02 722.90,854.10 C724.40,844.63 725.12,834.32 727.30,827.60 C728.75,823.14 730.84,817.08 732.60,817.00 C734.07,816.93 735.68,820.97 737.00,824.10 C739.14,829.17 740.56,838.09 742.30,845.30 C744.10,852.78 745.62,861.42 747.60,868.20 C749.23,873.78 750.80,880.52 752.90,883.20 C753.98,884.58 755.08,885.62 756.40,885.50 C758.41,885.32 761.19,880.40 763.50,878.80 C765.30,877.55 767.06,876.09 768.80,876.20 C770.60,876.31 772.55,877.89 774.10,879.70 C776.29,882.25 777.66,886.64 779.40,891.20 C781.79,897.47 783.89,907.02 786.40,914.10 C788.63,920.40 790.70,927.15 793.50,931.70 C795.59,935.10 797.78,938.32 800.50,939.70 C802.85,940.89 805.31,940.71 808.40,940.40 C812.97,939.94 818.90,936.42 825.10,935.40 C832.53,934.18 841.50,934.90 850.10,934.50 C859.27,934.08 869.69,933.84 878.50,932.90 C886.24,932.08 894.64,929.64 900.20,929.50 C903.65,929.42 905.65,929.54 908.60,930.40 C912.27,931.47 916.41,934.80 920.30,936.20 C923.87,937.48 927.43,937.87 931.00,938.70" fill="none" stroke="#000" stroke-width="3.50" stroke-linejoin="round" stroke-linecap="round"/>
<path d="M685.90,945.80 C690.00,944.63 694.73,944.56 698.20,942.30 C701.81,939.95 704.54,936.11 707.00,931.70 C710.13,926.09 712.13,918.33 714.10,910.60 C716.41,901.56 717.73,891.26 719.40,880.60 C721.29,868.51 722.41,852.86 724.70,841.80 C726.46,833.33 728.07,820.43 730.90,819.70 C732.64,819.25 735.34,822.73 737.00,825.90 C740.01,831.66 740.53,844.70 742.30,854.10 C744.07,863.50 745.77,873.22 747.60,882.30 C749.31,890.82 750.75,899.14 752.90,907.00 C754.93,914.40 756.97,922.28 760.00,928.20 C762.49,933.07 765.05,937.56 768.80,940.50 C772.43,943.35 777.60,944.03 782.00,945.80" fill="none" stroke="#2E982E" stroke-width="3.20" stroke-linejoin="round" stroke-linecap="round" stroke-dasharray="7.1 8.3"/>
<path d="M710.60,946.20 C716.47,945.50 723.00,945.82 728.20,944.10 C732.87,942.56 737.19,940.46 740.60,937.00 C744.45,933.09 746.79,926.62 749.40,921.10 C752.07,915.46 754.00,909.19 756.40,903.50 C758.70,898.04 760.33,891.27 763.50,887.60 C765.95,884.76 769.70,881.55 772.30,882.00 C775.04,882.48 777.34,887.21 779.40,891.20 C782.36,896.93 783.89,907.02 786.40,914.10 C788.63,920.40 791.00,927.26 793.50,931.70 C795.21,934.73 796.28,936.70 798.80,938.80 C802.16,941.60 808.20,943.47 812.90,945.80" fill="none" stroke="#CC60CC" stroke-width="3.20" stroke-linejoin="round" stroke-linecap="round" stroke-dasharray="7.1 8.3"/>
</g>
<g clip-path="url(#cc)">
<path d="M1083.7,209.0 1085.2,209.2 1086.7,209.1 1088.2,208.7 1089.7,208.1 1091.2,207.1 1092.7,206.0 1094.2,204.5 1095.7,202.9 1097.2,201.1 1098.7,199.0 1100.2,196.8 1101.7,194.5 1103.2,192.0 1104.7,189.3 1106.2,186.6 1107.7,183.7 1109.2,180.8 1110.7,177.7 1112.2,174.6 1113.7,171.3 1115.2,168.0 1116.7,164.6 1118.2,161.1 1119.7,157.6 1121.2,154.0 1122.7,150.3 1124.2,146.6 1125.7,142.9 1127.2,139.2 1128.7,135.4 1130.2,131.7 1131.7,128.1 1133.2,124.7 1134.7,121.4 1136.2,118.5 1137.7,115.8 1139.2,113.5 1140.7,111.5 1142.2,110.0 1143.7,109.0 1145.2,108.5 1146.7,108.5 1148.2,109.2 1149.7,110.3 1151.2,111.8 1152.7,113.7 1154.2,116.0 1155.7,118.4 1157.2,121.1 1158.7,123.8 1160.2,126.7 1161.7,129.6 1163.2,132.5 1164.7,135.5 1166.2,138.5 1167.7,141.6 1169.2,144.6 1170.7,147.6 1172.2,150.5 1173.7,153.4 1175.2,156.1 1176.7,158.8 1178.2,161.4 1179.7,163.9 1181.2,166.2 1182.7,168.5 1184.2,170.6 1185.7,172.6 1187.2,174.5 1188.7,176.3 1190.2,178.0 1191.7,179.6 1193.2,181.1 1194.7,182.4 1196.2,183.6 1197.7,184.7 1199.2,185.7 1200.7,186.4 1202.2,187.1 1203.7,187.5 1205.2,187.9 1206.7,188.1 1208.2,188.1 1209.7,188.1 1211.2,187.9 1212.7,187.7 1214.2,187.3 1215.7,186.9 1217.2,186.5 1218.7,185.9 1220.2,185.4 1221.7,184.8 1223.2,184.2 1224.7,183.6 1226.2,183.0 1227.7,182.3 1229.2,181.8 1230.7,181.2 1232.2,180.6 1233.7,180.1 1235.2,179.5 1236.7,179.0 1238.2,178.4 1239.7,177.9 1241.2,177.3 1242.7,176.8 1244.2,176.2 1245.7,175.6 1247.2,175.0 1248.7,174.4 1250.2,173.8 1251.7,173.1 1253.2,172.4 1254.7,171.7 1256.2,171.0 1257.7,170.2 1259.2,169.4 1260.7,168.6 1262.2,167.7 1263.7,166.8 1265.2,165.8 1266.7,164.9 1268.2,163.8 1269.7,162.8 1271.2,161.7 1272.7,160.6 1274.2,159.5 1275.7,158.3 1277.2,157.2 1278.7,156.0 1280.2,154.8 1281.7,153.6 1283.2,152.5 1284.7,151.3 1286.2,150.1 1287.7,148.9 1289.2,147.7 1290.7,146.5 1292.2,145.4 1293.7,144.2 1294.1,143.9 1295.6,145.0 1297.1,146.1 1298.6,147.4 1300.1,148.7 1301.6,150.1 1303.1,151.5 1304.6,153.0 1306.1,154.6 1307.6,156.2 1309.1,157.8 1310.6,159.4 1312.1,161.1 1313.6,162.8 1315.1,164.5 1316.6,166.2 1318.1,167.9 1319.6,169.6 1321.1,171.2 1322.6,172.9 1324.1,174.5 1325.6,176.1 1327.1,177.7 1328.6,179.2 1330.1,180.8 1331.6,182.3 1333.1,183.8 1334.6,185.4 1336.1,186.9 1337.6,188.4 1339.1,190.0 1340.6,191.5 1342.1,193.1 1343.6,194.7 1345.1,196.2 1346.6,197.8 1348.1,199.4 1349.6,201.0 1351.1,202.5 1352.6,204.1 1354.1,205.6 1355.6,207.2 1357.1,208.7 1358.6,210.2 1360.1,211.6 1361.6,213.1 1363.1,214.5 1364.6,215.8 1366.1,217.2 1367.6,218.5 1369.1,219.7 1370.6,220.9 1372.1,222.0 1373.6,223.1 1375.1,224.2 1376.6,225.1 1378.1,226.1 1379.6,227.0 1381.1,227.8 1382.6,228.6 1384.1,229.5 1385.6,230.3 1387.1,231.1 1388.6,231.9 1390.1,232.8 1391.6,233.7 1393.1,234.6 1394.6,235.6 1396.1,236.6 1397.6,237.7 1399.1,238.9 1399.8,239.5 1401.3,238.1 1402.8,236.7 1404.3,235.2 1405.8,233.7 1407.3,232.1 1408.8,230.5 1410.3,228.8 1411.8,227.1 1413.3,225.3 1414.8,223.5 1416.3,221.6 1417.8,219.7 1419.3,217.8 1420.8,215.8 1422.3,213.8 1423.8,211.7 1425.3,209.6 1426.8,207.5 1428.3,205.4 1429.8,203.2 1431.3,201.1 1432.8,198.9 1434.3,196.8 1435.8,194.7 1437.3,192.6 1438.8,190.5 1440.3,188.5 1441.8,186.5 1443.3,184.6 1444.8,182.7 1446.3,180.9 1447.8,179.2 1449.3,177.5 1450.8,175.9 1452.3,174.4 1453.8,173.0 1455.3,171.7 1456.8,170.5 1458.3,169.5 1459.8,168.5 1461.3,167.6 1462.8,166.9 1464.3,166.4 1465.8,165.9 1467.3,165.6 1468.8,165.4 1470.3,165.4 1471.8,165.6 1473.3,165.8 1474.8,166.2 1476.3,166.7 1477.8,167.4 1479.3,168.2 1480.8,169.1 1482.3,170.1 1483.8,171.3 1485.3,172.5 1486.8,173.9 1488.3,175.4 1488.5,175.6" fill="none" stroke="#000" stroke-width="3.60" stroke-linejoin="round" stroke-linecap="round"/>
<path d="M1083.7,239.4 1085.2,238.0 1086.7,236.6 1088.2,235.1 1089.7,233.7 1091.2,232.2 1092.7,230.7 1094.2,229.3 1095.7,227.8 1097.2,226.4 1098.7,225.0 1100.2,223.6 1101.7,222.2 1103.2,220.8 1104.7,219.5 1106.2,218.2 1107.7,217.0 1109.2,215.8 1110.7,214.6 1112.2,213.5 1113.7,212.5 1115.2,211.5 1116.7,210.6 1118.2,209.7 1119.7,208.9 1121.2,208.1 1122.7,207.4 1124.2,206.7 1125.7,206.1 1127.2,205.5 1128.7,205.0 1130.2,204.4 1131.7,203.9 1133.2,203.4 1134.7,203.0 1136.2,202.6 1137.7,202.1 1139.2,201.7 1140.7,201.3 1142.2,201.0 1143.7,200.6 1145.2,200.2 1146.7,199.8 1148.2,199.4 1149.7,199.0 1151.2,198.6 1152.7,198.2 1154.2,197.8 1155.7,197.3 1157.2,196.9 1158.7,196.4 1160.2,195.9 1161.7,195.3 1163.2,194.7 1164.7,194.1 1166.2,193.5 1167.7,192.8 1169.2,192.1 1170.7,191.3 1172.2,190.5 1173.7,189.6 1175.2,188.7 1176.7,187.8 1178.2,186.7 1179.7,185.6 1181.2,184.5 1182.7,183.3 1184.2,182.0 1185.7,180.7 1187.2,179.3 1188.7,177.8 1190.2,176.2 1191.7,174.6 1193.2,172.8 1194.7,171.0 1196.2,169.1 1197.7,167.1 1199.2,165.0 1200.7,162.9 1202.2,160.6 1203.7,158.2 1205.2,155.7 1206.7,153.2 1208.2,150.5 1209.7,147.8 1211.2,145.1 1212.7,142.2 1214.2,139.3 1215.7,136.4 1217.2,133.4 1218.7,130.3 1220.2,127.3 1221.7,124.1 1223.2,121.0 1224.7,117.9 1226.2,114.7 1227.7,111.5 1229.2,108.4 1230.7,105.2 1232.2,102.1 1233.7,98.9 1235.2,95.8 1236.7,92.8 1238.2,89.8 1239.7,87.0 1241.2,84.5 1242.7,82.2 1244.2,80.4 1245.7,79.0 1247.2,78.2 1248.7,78.1 1250.2,78.5 1251.7,79.6 1253.2,81.0 1254.7,82.9 1256.2,85.0 1257.7,87.4 1259.2,89.8 1260.7,92.3 1262.2,94.8 1263.7,97.2 1265.2,99.6 1266.7,101.9 1268.2,104.2 1269.7,106.5 1271.2,108.8 1272.7,111.2 1274.2,113.6 1275.7,116.0 1277.2,118.4 1278.7,120.8 1280.2,123.1 1281.7,125.3 1283.2,127.5 1284.7,129.5 1286.2,131.4 1287.7,133.1 1289.2,134.7 1290.7,136.0 1292.2,137.1 1293.7,137.7 1295.2,137.7 1296.7,137.2 1298.2,136.2 1299.7,134.8 1301.2,133.1 1302.7,131.1 1304.2,128.9 1305.7,126.6 1307.2,124.3 1308.7,122.0 1310.2,119.8 1311.7,117.7 1313.2,115.6 1314.7,113.7 1316.2,111.8 1317.7,110.0 1319.2,108.4 1320.7,106.9 1322.2,105.6 1323.7,104.4 1325.2,103.5 1326.7,102.7 1328.2,102.2 1329.7,102.0 1331.2,102.0 1332.7,102.3 1334.2,102.9 1335.7,103.9 1337.2,105.2 1338.7,106.8 1340.2,108.7 1341.7,110.9 1343.2,113.3 1344.7,115.9 1346.2,118.7 1347.7,121.7 1349.2,124.8 1350.7,128.1 1352.2,131.4 1353.7,134.8 1355.2,138.2 1356.7,141.6 1358.2,145.0 1359.7,148.4 1361.2,151.8 1362.7,155.1 1364.2,158.4 1365.7,161.7 1367.2,164.9 1368.7,168.1 1370.2,171.2 1371.7,174.2 1373.2,177.2 1374.7,180.1 1376.2,182.9 1377.7,185.6 1379.2,188.2 1380.7,190.8 1382.2,193.2 1383.7,195.5 1385.2,197.8 1386.7,199.9 1388.2,201.8 1389.7,203.6 1391.2,205.3 1392.7,206.7 1394.2,207.9 1395.7,208.9 1397.2,209.6 1398.7,209.9 1400.2,210.0 1401.7,209.6 1403.2,209.1 1404.7,208.3 1406.2,207.3 1407.7,206.3 1409.2,205.2 1410.7,204.0 1412.2,202.8 1413.7,201.5 1415.2,200.1 1416.7,198.7 1418.2,197.3 1419.7,195.8 1421.2,194.2 1422.7,192.7 1424.2,191.0 1425.7,189.4 1427.2,187.7 1428.7,186.0 1430.2,184.2 1431.7,182.4 1433.2,180.6 1434.7,178.8 1436.2,176.9 1437.7,175.0 1439.2,173.1 1440.7,171.1 1442.2,169.1 1443.7,167.0 1445.2,164.9 1446.7,162.7 1448.2,160.5 1449.7,158.2 1451.2,155.8 1452.7,153.4 1454.2,150.9 1455.7,148.3 1457.2,145.7 1458.7,143.1 1460.2,140.4 1461.7,137.6 1463.2,134.8 1464.7,132.0 1466.2,129.2 1467.7,126.3 1469.2,123.4 1470.7,120.5 1472.2,117.5 1473.7,114.6 1475.2,111.6 1476.7,108.7 1478.2,105.7 1479.7,102.7 1481.2,99.8 1482.7,96.8 1484.2,93.8 1485.7,90.9 1487.2,88.0 1488.5,85.5" fill="none" stroke="#000" stroke-width="3.60" stroke-linejoin="round" stroke-linecap="round"/>
<path d="M1084.0,240.7 1085.5,242.4 1087.0,243.9 1088.5,245.5 1090.0,246.9 1091.5,248.3 1093.0,249.6 1094.5,250.8 1096.0,252.0 1097.5,253.0 1099.0,254.0 1100.5,255.0 1102.0,255.8 1103.5,256.5 1105.0,257.2 1106.5,257.8 1108.0,258.3 1109.5,258.7 1111.0,259.0 1112.5,259.2 1114.0,259.4 1115.5,259.4 1117.0,259.4 1118.5,259.2 1120.0,259.0 1121.5,258.7 1123.0,258.3 1124.5,257.9 1126.0,257.4 1127.5,256.8 1129.0,256.2 1130.5,255.6 1132.0,254.9 1133.5,254.1 1135.0,253.3 1136.5,252.5 1138.0,251.7 1139.5,250.9 1141.0,250.0 1142.5,249.1 1144.0,248.2 1145.5,247.3 1147.0,246.5 1148.5,245.6 1150.0,244.7 1151.5,243.9 1153.0,243.1 1154.5,242.2 1156.0,241.4 1157.5,240.6 1159.0,239.9 1160.5,239.1 1162.0,238.4 1163.5,237.7 1165.0,237.0 1166.5,236.3 1168.0,235.7 1169.5,235.1 1171.0,234.6 1172.5,234.0 1174.0,233.5 1175.5,233.1 1177.0,232.6 1178.5,232.2 1180.0,231.9 1181.5,231.6 1183.0,231.3 1184.5,231.1 1186.0,230.9 1187.5,230.8 1189.0,230.7 1190.5,230.7 1192.0,230.7 1193.5,230.8 1195.0,230.8 1196.5,231.0 1198.0,231.1 1199.5,231.3 1201.0,231.6 1202.5,231.8 1204.0,232.1 1205.5,232.3 1207.0,232.6 1208.5,232.9 1210.0,233.2 1211.5,233.5 1213.0,233.8 1214.5,234.1 1216.0,234.4 1217.5,234.7 1219.0,234.9 1220.5,235.1 1222.0,235.3 1223.5,235.5 1225.0,235.7 1226.5,235.8 1228.0,235.9 1229.5,235.9 1231.0,236.0 1232.5,236.0 1234.0,235.9 1235.5,235.9 1237.0,235.8 1238.5,235.7 1240.0,235.6 1241.5,235.5 1243.0,235.3 1244.5,235.1 1246.0,235.0 1247.5,234.7 1249.0,234.5 1250.5,234.3 1252.0,234.1 1253.5,233.8 1255.0,233.6 1256.5,233.3 1258.0,233.0 1259.5,232.8 1261.0,232.5 1262.5,232.2 1264.0,232.0 1265.5,231.7 1267.0,231.4 1268.5,231.1 1270.0,230.9 1271.5,230.6 1273.0,230.4 1274.5,230.1 1276.0,229.9 1277.5,229.7 1279.0,229.5 1280.5,229.3 1282.0,229.1 1283.5,228.9 1285.0,228.8 1286.5,228.7 1288.0,228.6 1289.5,228.5 1291.0,228.4 1292.5,228.4 1294.0,228.4 1295.5,228.4 1297.0,228.4 1298.5,228.5 1300.0,228.5 1301.5,228.7 1303.0,228.8 1304.5,229.0 1306.0,229.2 1307.5,229.4 1309.0,229.6 1310.5,229.9 1312.0,230.2 1313.5,230.5 1315.0,230.9 1316.5,231.2 1318.0,231.6 1319.5,232.1 1321.0,232.5 1322.5,233.0 1324.0,233.5 1325.5,234.1 1327.0,234.7 1328.5,235.3 1330.0,235.9 1331.5,236.5 1333.0,237.2 1334.5,237.9 1336.0,238.5 1337.5,239.2 1339.0,239.9 1340.5,240.6 1342.0,241.3 1343.5,242.0 1345.0,242.7 1346.5,243.4 1348.0,244.1 1349.5,244.8 1351.0,245.4 1352.5,246.0 1354.0,246.7 1355.5,247.2 1357.0,247.8 1358.5,248.3 1360.0,248.8 1361.5,249.3 1363.0,249.7 1364.5,250.1 1366.0,250.5 1367.5,250.8 1369.0,251.0 1370.5,251.2 1372.0,251.4 1373.5,251.5 1375.0,251.5 1376.5,251.5 1378.0,251.4 1379.5,251.2 1381.0,251.0 1382.5,250.7 1384.0,250.3 1385.5,249.9 1387.0,249.4 1388.5,248.8 1390.0,248.1 1391.5,247.3 1393.0,246.4 1394.5,245.4 1396.0,244.4 1397.5,243.2 1399.0,241.9 1399.8,241.2 1401.3,242.8 1402.8,244.2 1404.3,245.6 1405.8,246.8 1407.3,247.9 1408.8,248.9 1410.3,249.8 1411.8,250.6 1413.3,251.3 1414.8,251.9 1416.3,252.3 1417.8,252.7 1419.3,253.1 1420.8,253.3 1422.3,253.5 1423.8,253.5 1425.3,253.5 1426.8,253.5 1428.3,253.3 1429.8,253.1 1431.3,252.9 1432.8,252.6 1434.3,252.2 1435.8,251.8 1437.3,251.4 1438.8,250.9 1440.3,250.3 1441.8,249.8 1443.3,249.2 1444.8,248.6 1446.3,247.9 1447.8,247.3 1449.3,246.6 1450.8,245.9 1452.3,245.2 1453.8,244.5 1455.3,243.7 1456.8,243.0 1458.3,242.3 1459.8,241.6 1461.3,240.9 1462.8,240.3 1464.3,239.6 1465.8,239.0 1467.3,238.4 1468.8,237.8 1470.3,237.2 1471.8,236.7 1473.3,236.3 1474.8,235.8 1476.3,235.4 1477.8,235.1 1479.3,234.8 1480.8,234.6 1482.3,234.4 1483.8,234.4 1485.3,234.3 1486.8,234.4 1488.3,234.5 1488.5,234.5" fill="none" stroke="#CC60CC" stroke-width="3.40" stroke-linejoin="round" stroke-linecap="round"/>
<path d="M1083.7,325.8 1085.2,325.5 1086.7,325.1 1088.2,324.9 1089.7,324.6 1091.2,324.4 1092.7,324.2 1094.2,324.0 1095.7,323.8 1097.2,323.6 1098.7,323.5 1100.2,323.3 1101.7,323.2 1103.2,323.0 1104.7,322.9 1106.2,322.7 1107.7,322.5 1109.2,322.3 1110.7,322.1 1112.2,321.9 1113.7,321.7 1115.2,321.4 1116.7,321.1 1118.2,320.8 1119.7,320.4 1121.2,320.0 1122.7,319.6 1124.2,319.2 1125.7,318.8 1127.2,318.3 1128.7,317.8 1130.2,317.3 1131.7,316.7 1133.2,316.1 1134.7,315.5 1136.2,314.9 1137.7,314.3 1139.2,313.6 1140.7,312.9 1142.2,312.2 1143.7,311.5 1145.2,310.8 1146.7,310.1 1148.2,309.3 1149.7,308.6 1151.2,307.8 1152.7,307.1 1154.2,306.3 1155.7,305.6 1157.2,304.8 1158.7,304.0 1160.2,303.3 1161.7,302.6 1163.2,301.9 1164.7,301.2 1166.2,300.5 1167.7,299.9 1169.2,299.3 1170.7,298.8 1172.2,298.3 1173.7,297.8 1175.2,297.4 1176.7,297.1 1178.2,296.8 1179.7,296.6 1181.2,296.4 1182.7,296.3 1184.2,296.2 1185.7,296.2 1187.2,296.2 1188.7,296.3 1190.2,296.5 1191.7,296.7 1193.2,296.9 1194.7,297.2 1196.2,297.5 1197.7,297.9 1199.2,298.3 1200.7,298.7 1202.2,299.2 1203.7,299.7 1205.2,300.3 1206.7,300.9 1208.2,301.5 1209.7,302.1 1211.2,302.8 1212.7,303.5 1214.2,304.2 1215.7,305.0 1217.2,305.8 1218.7,306.6 1220.2,307.4 1221.7,308.2 1223.2,309.1 1224.7,310.0 1226.2,310.9 1227.7,311.8 1229.2,312.7 1230.7,313.6 1232.2,314.6 1233.7,315.5 1235.2,316.5 1236.7,317.4 1238.2,318.4 1239.7,319.3 1241.2,320.3 1242.7,321.3 1244.2,322.2 1245.7,323.2 1247.2,324.2 1248.7,325.1 1250.2,326.0 1251.7,327.0 1253.2,327.9 1254.7,328.8 1256.2,329.7 1257.7,330.6 1259.2,331.4 1260.7,332.3 1262.0,333.0" fill="none" stroke="#2E982E" stroke-width="3.40" stroke-linejoin="round" stroke-linecap="round"/>
<path d="M1325.0,333.0 1326.5,332.2 1328.0,331.4 1329.5,330.5 1331.0,329.7 1332.5,329.0 1334.0,328.2 1335.5,327.5 1337.0,326.8 1338.5,326.1 1340.0,325.5 1341.5,324.9 1343.0,324.3 1344.5,323.9 1346.0,323.4 1347.5,323.1 1349.0,322.7 1350.5,322.5 1352.0,322.2 1353.5,322.1 1355.0,321.9 1356.5,321.8 1358.0,321.8 1359.5,321.8 1361.0,321.8 1362.5,321.8 1364.0,321.9 1365.5,322.0 1367.0,322.1 1368.5,322.3 1370.0,322.4 1371.5,322.6 1373.0,322.8 1374.5,323.0 1376.0,323.2 1377.5,323.5 1379.0,323.7 1380.5,324.0 1382.0,324.2 1383.5,324.5 1385.0,324.7 1386.5,325.0 1388.0,325.2 1389.5,325.4 1391.0,325.6 1392.5,325.7 1394.0,325.8 1395.5,325.9 1397.0,325.9 1398.5,325.9 1400.0,325.9 1401.5,325.8 1403.0,325.6 1404.5,325.4 1406.0,325.2 1407.5,324.9 1409.0,324.6 1410.5,324.3 1412.0,324.0 1413.5,323.7 1415.0,323.3 1416.5,323.0 1418.0,322.6 1419.5,322.3 1421.0,322.0 1422.5,321.7 1424.0,321.5 1425.5,321.2 1427.0,321.0 1428.5,320.8 1430.0,320.7 1431.5,320.5 1433.0,320.4 1434.5,320.3 1436.0,320.2 1437.5,320.1 1439.0,320.0 1440.5,319.9 1442.0,319.9 1443.5,319.9 1445.0,319.9 1446.5,319.8 1448.0,319.8 1449.5,319.8 1451.0,319.8 1452.5,319.9 1454.0,319.9 1455.5,319.9 1457.0,319.9 1458.5,319.9 1460.0,319.9 1461.5,320.0 1463.0,320.0 1464.5,320.0 1466.0,320.0 1467.5,320.0 1469.0,320.0 1470.5,320.0 1472.0,319.9 1473.5,319.9 1475.0,319.8 1476.5,319.8 1478.0,319.7 1479.5,319.6 1481.0,319.5 1482.5,319.4 1484.0,319.2 1485.5,319.1 1487.0,318.9 1488.5,318.7" fill="none" stroke="#2E982E" stroke-width="3.40" stroke-linejoin="round" stroke-linecap="round"/>
<line x1="1189.00" y1="73.00" x2="1189.00" y2="328.20" stroke="#000" stroke-width="2.00" stroke-dasharray="9.8 8.74"/>
<line x1="1241.90" y1="73.00" x2="1241.90" y2="328.20" stroke="#000" stroke-width="2.00" stroke-dasharray="9.8 8.74"/>
<line x1="1294.40" y1="73.00" x2="1294.40" y2="328.20" stroke="#000" stroke-width="2.00" stroke-dasharray="9.8 8.74"/>
<line x1="1400.20" y1="73.00" x2="1400.20" y2="328.20" stroke="#000" stroke-width="2.00" stroke-dasharray="9.8 8.74"/>
</g>
<g clip-path="url(#cd)">
<path d="M1084.4,514.0 1085.9,513.4 1087.4,512.6 1088.9,511.6 1090.4,510.3 1091.9,508.8 1093.4,507.1 1094.9,505.2 1096.4,503.1 1097.9,500.9 1099.4,498.5 1100.9,495.9 1102.4,493.1 1103.9,490.3 1105.4,487.3 1106.9,484.2 1108.4,481.0 1109.9,477.7 1111.4,474.3 1112.9,470.8 1114.4,467.3 1115.9,463.8 1117.4,460.1 1118.9,456.5 1120.4,452.8 1121.9,449.0 1123.4,445.2 1124.9,441.4 1126.4,437.5 1127.9,433.6 1129.4,429.6 1130.9,425.6 1131.5,424.0" fill="none" stroke="#000" stroke-width="3.60" stroke-linejoin="round" stroke-linecap="round"/>
<path d="M1084.4,528.7 1085.9,528.6 1087.4,528.3 1088.9,528.0 1090.4,527.7 1091.9,527.2 1093.4,526.7 1094.9,526.1 1096.4,525.5 1097.9,524.9 1099.4,524.1 1100.9,523.4 1102.4,522.6 1103.9,521.7 1105.4,520.8 1106.9,519.9 1108.4,519.0 1109.9,518.0 1111.4,517.1 1112.9,516.1 1114.4,515.1 1115.9,514.1 1117.4,513.1 1118.9,512.1 1120.4,511.1 1121.9,510.1 1123.4,509.1 1124.9,508.1 1126.4,507.2 1127.9,506.2 1129.4,505.2 1130.9,504.3 1132.4,503.4 1133.9,502.4 1135.4,501.5 1136.9,500.6 1138.4,499.6 1139.9,498.7 1141.4,497.8 1142.9,496.8 1144.4,495.9 1145.9,494.9 1147.4,494.0 1148.9,493.1 1150.4,492.1 1151.9,491.1 1153.4,490.2 1154.9,489.2 1156.4,488.2 1157.9,487.2 1159.4,486.2 1160.9,485.2 1162.4,484.1 1163.9,483.1 1165.4,482.0 1166.9,480.9 1168.4,479.8 1169.9,478.6 1171.4,477.4 1172.9,476.2 1174.4,475.0 1175.9,473.7 1177.4,472.3 1178.9,471.0 1180.4,469.5 1181.9,468.1 1183.4,466.6 1184.9,465.0 1186.4,463.3 1187.9,461.6 1189.4,459.9 1190.9,458.1 1192.4,456.2 1193.9,454.2 1195.4,452.2 1196.9,450.1 1198.4,447.9 1199.9,445.6 1201.4,443.2 1202.9,440.8 1204.4,438.3 1205.9,435.7 1207.4,432.9 1208.9,430.1 1210.4,427.2 1211.9,424.2 1212.0,424.0" fill="none" stroke="#000" stroke-width="3.60" stroke-linejoin="round" stroke-linecap="round"/>
<path d="M1166.0,424.0 1167.5,426.5 1169.0,429.0 1170.5,431.5 1172.0,434.0 1173.5,436.4 1175.0,438.9 1176.5,441.3 1178.0,443.8 1179.5,446.1 1181.0,448.4 1182.5,450.7 1184.0,452.8 1185.5,454.9 1187.0,456.9 1188.5,458.8 1190.0,460.6 1191.5,462.3 1193.0,463.9 1194.5,465.4 1196.0,466.7 1197.5,468.0 1199.0,469.2 1200.5,470.3 1202.0,471.3 1203.5,472.2 1205.0,473.0 1206.5,473.8 1208.0,474.4 1209.5,475.0 1211.0,475.5 1212.5,475.9 1214.0,476.2 1215.5,476.4 1217.0,476.6 1218.5,476.7 1220.0,476.8 1221.5,476.7 1223.0,476.7 1224.5,476.5 1226.0,476.3 1227.5,476.1 1229.0,475.8 1230.5,475.5 1232.0,475.2 1233.5,474.8 1235.0,474.5 1236.5,474.1 1238.0,473.7 1239.5,473.3 1241.0,473.0 1242.5,472.6 1244.0,472.3 1245.5,471.9 1247.0,471.6 1248.5,471.3 1250.0,470.9 1251.5,470.6 1253.0,470.2 1254.5,469.8 1256.0,469.4 1257.5,469.0 1259.0,468.5 1260.5,468.0 1262.0,467.5 1263.5,466.9 1265.0,466.3 1266.5,465.6 1268.0,464.8 1269.5,464.0 1271.0,463.1 1272.5,462.2 1274.0,461.2 1275.5,460.2 1277.0,459.1 1278.5,458.0 1280.0,456.8 1281.5,455.6 1283.0,454.4 1284.5,453.1 1286.0,451.8 1287.5,450.5 1289.0,449.2 1290.5,447.8 1292.0,446.4 1293.5,445.0 1294.4,444.2 1295.9,445.8 1297.4,447.4 1298.9,448.9 1300.4,450.5 1301.9,452.1 1303.4,453.6 1304.9,455.1 1306.4,456.7 1307.9,458.2 1309.4,459.7 1310.9,461.2 1312.4,462.7 1313.9,464.1 1315.4,465.6 1316.9,467.0 1318.4,468.5 1319.9,469.9 1321.4,471.4 1322.9,472.8 1324.4,474.2 1325.9,475.6 1327.4,477.0 1328.9,478.4 1330.4,479.7 1331.9,481.1 1333.4,482.5 1334.9,483.8 1336.4,485.2 1337.9,486.5 1339.4,487.8 1340.9,489.1 1342.4,490.5 1343.9,491.8 1345.4,493.1 1346.9,494.3 1348.4,495.6 1349.9,496.9 1351.4,498.2 1352.9,499.4 1354.4,500.7 1355.9,501.9 1357.4,503.2 1358.9,504.4 1360.4,505.6 1361.9,506.9 1363.4,508.1 1364.9,509.3 1366.4,510.5 1367.9,511.7 1369.4,512.9 1370.9,514.1 1372.4,515.3 1373.9,516.5 1375.4,517.7 1376.9,518.9 1378.4,520.0 1379.9,521.1 1381.4,522.2 1382.9,523.3 1384.4,524.2 1385.9,525.2 1387.4,526.0 1388.9,526.8 1390.4,527.4 1391.9,528.0 1393.4,528.5 1394.9,528.8 1396.4,529.1 1397.9,529.1 1399.4,529.1 1400.9,528.9 1402.4,528.5 1403.9,528.0 1405.4,527.3 1406.9,526.4 1408.4,525.3 1409.9,524.0 1411.4,522.6 1412.9,521.1 1414.4,519.4 1415.9,517.6 1417.4,515.7 1418.9,513.7 1420.4,511.6 1421.9,509.4 1423.4,507.2 1424.9,504.9 1426.4,502.6 1427.9,500.2 1429.4,497.8 1430.9,495.4 1432.4,493.0 1433.9,490.6 1435.4,488.3 1436.9,486.0 1438.4,483.7 1439.9,481.5 1441.4,479.3 1442.9,477.2 1444.4,475.2 1445.9,473.3 1447.4,471.6 1448.9,469.9 1450.4,468.3 1451.9,466.8 1453.4,465.5 1454.9,464.3 1456.4,463.2 1457.9,462.2 1459.4,461.4 1460.9,460.7 1462.4,460.2 1463.9,459.9 1465.4,459.6 1466.9,459.6 1468.4,459.7 1469.9,460.0 1471.4,460.3 1472.9,460.8 1474.4,461.4 1475.9,462.1 1477.4,462.9 1478.9,463.8 1480.4,464.7 1481.9,465.6 1483.4,466.6 1484.9,467.6 1486.4,468.7 1487.9,469.7 1488.5,470.1" fill="none" stroke="#000" stroke-width="3.60" stroke-linejoin="round" stroke-linecap="round"/>
<path d="M1281.0,424.0 1282.5,427.2 1284.0,430.0 1285.5,432.6 1287.0,434.8 1288.5,436.6 1290.0,438.0 1291.5,439.0 1293.0,439.5 1294.5,439.6 1296.0,439.1 1297.5,438.2 1299.0,436.7 1300.5,434.8 1302.0,432.4 1303.5,429.6 1305.0,426.4 1306.0,424.0" fill="none" stroke="#000" stroke-width="3.60" stroke-linejoin="round" stroke-linecap="round"/>
<path d="M1351.0,424.0 1352.5,427.5 1354.0,430.9 1355.5,434.3 1357.0,437.6 1358.5,441.0 1360.0,444.3 1361.5,447.6 1363.0,450.9 1364.5,454.3 1366.0,457.7 1367.5,461.0 1369.0,464.4 1370.5,467.7 1372.0,471.0 1373.5,474.3 1375.0,477.5 1376.5,480.7 1378.0,483.8 1379.5,486.8 1381.0,489.7 1382.5,492.5 1384.0,495.2 1385.5,497.8 1387.0,500.2 1388.5,502.5 1390.0,504.6 1391.5,506.4 1393.0,508.1 1394.5,509.5 1396.0,510.7 1397.5,511.6 1399.0,512.2 1400.5,512.4 1402.0,512.4 1403.5,512.1 1405.0,511.5 1406.5,510.8 1408.0,509.8 1409.5,508.7 1411.0,507.5 1412.5,506.2 1414.0,504.8 1415.5,503.4 1417.0,501.9 1418.5,500.3 1420.0,498.7 1421.5,497.0 1423.0,495.3 1424.5,493.5 1426.0,491.7 1427.5,489.8 1429.0,488.0 1430.5,486.1 1432.0,484.2 1433.5,482.3 1435.0,480.3 1436.5,478.4 1438.0,476.5 1439.5,474.5 1441.0,472.5 1442.5,470.5 1444.0,468.3 1445.5,466.1 1447.0,463.8 1448.5,461.3 1450.0,458.7 1451.5,456.0 1453.0,453.1 1454.5,450.2 1456.0,447.1 1457.5,443.9 1459.0,440.6 1460.5,437.2 1462.0,433.7 1463.5,430.2 1465.0,426.5 1466.0,424.0" fill="none" stroke="#000" stroke-width="3.60" stroke-linejoin="round" stroke-linecap="round"/>
<path d="M1083.8,555.3 1085.3,555.6 1086.8,556.0 1088.3,556.7 1089.8,557.5 1091.3,558.3 1092.8,559.3 1094.3,560.3 1095.8,561.3 1097.3,562.3 1098.8,563.3 1100.3,564.1 1101.8,564.9 1103.3,565.6 1104.8,566.1 1106.3,566.6 1107.8,567.0 1109.3,567.3 1110.8,567.6 1112.3,567.7 1113.8,567.8 1115.3,567.9 1116.8,567.8 1118.3,567.8 1119.8,567.6 1121.3,567.5 1122.8,567.3 1124.3,567.0 1125.8,566.7 1127.3,566.4 1128.8,566.1 1130.3,565.7 1131.8,565.4 1133.3,565.0 1134.8,564.6 1136.3,564.2 1137.8,563.9 1139.3,563.5 1140.8,563.1 1142.3,562.8 1143.8,562.5 1145.3,562.2 1146.8,561.9 1148.3,561.7 1149.8,561.5 1151.3,561.4 1152.8,561.3 1154.3,561.2 1155.8,561.2 1157.3,561.3 1158.8,561.4 1160.3,561.6 1161.8,561.8 1163.3,562.0 1164.8,562.2 1166.3,562.5 1167.8,562.7 1169.3,563.0 1170.8,563.2 1172.3,563.4 1173.8,563.6 1175.3,563.8 1176.8,563.9 1178.3,564.0 1179.8,564.1 1181.3,564.1 1182.8,564.2 1184.3,564.2 1185.8,564.1 1187.3,564.1 1188.8,564.0 1190.3,563.9 1191.8,563.8 1193.3,563.6 1194.8,563.5 1196.3,563.3 1197.8,563.1 1199.3,562.9 1200.8,562.6 1202.3,562.3 1203.8,562.1 1205.3,561.8 1206.8,561.5 1208.3,561.1 1209.8,560.8 1211.3,560.4 1212.8,560.1 1214.3,559.7 1215.8,559.3 1217.3,558.9 1218.8,558.5 1220.3,558.1 1221.8,557.6 1223.3,557.2 1224.8,556.7 1226.3,556.3 1227.8,555.8 1229.3,555.3 1230.8,554.9 1232.3,554.4 1233.8,553.9 1235.3,553.4 1236.8,552.9 1238.3,552.4 1239.8,551.9 1241.3,551.4 1242.8,550.9 1244.3,550.4 1245.8,549.9 1247.3,549.4 1248.8,548.9 1250.3,548.4 1251.8,547.9 1253.3,547.5 1254.8,547.0 1256.3,546.5 1257.8,546.0 1259.3,545.6 1260.8,545.1 1262.3,544.7 1263.8,544.2 1265.3,543.8 1266.8,543.4 1268.3,542.9 1269.8,542.5 1271.3,542.1 1272.8,541.8 1274.3,541.4 1275.8,541.1 1277.3,540.7 1278.8,540.4 1280.3,540.1 1281.8,539.8 1283.3,539.5 1284.8,539.3 1286.3,539.0 1287.8,538.8 1289.3,538.7 1290.8,538.5 1292.3,538.4 1293.8,538.3 1295.3,538.2 1296.8,538.2 1298.3,538.2 1299.8,538.2 1301.3,538.3 1302.8,538.4 1304.3,538.5 1305.8,538.7 1307.3,539.0 1308.8,539.3 1310.3,539.6 1311.8,540.0 1313.3,540.4 1314.8,540.8 1316.3,541.3 1317.8,541.9 1319.3,542.4 1320.8,543.0 1322.3,543.6 1323.8,544.3 1325.3,544.9 1326.8,545.6 1328.3,546.3 1329.8,547.0 1331.3,547.7 1332.8,548.5 1334.3,549.2 1335.8,549.9 1337.3,550.6 1338.8,551.3 1340.3,552.0 1341.8,552.7 1343.3,553.4 1344.8,554.1 1346.3,554.8 1347.8,555.4 1349.3,556.0 1350.8,556.6 1352.3,557.2 1353.8,557.7 1355.3,558.3 1356.8,558.7 1358.3,559.2 1359.8,559.6 1361.3,560.0 1362.8,560.3 1364.3,560.6 1365.8,560.8 1367.3,561.0 1368.8,561.1 1370.3,561.2 1371.8,561.2 1373.3,561.2 1374.8,561.1 1376.3,560.9 1377.8,560.7 1379.3,560.5 1380.8,560.2 1382.3,559.8 1383.8,559.4 1385.3,559.0 1386.8,558.5 1388.3,558.0 1389.8,557.4 1391.3,557.0 1392.8,556.5 1394.3,556.1 1395.8,555.9 1397.3,555.7 1398.8,555.7 1400.3,555.8 1401.8,556.2 1403.3,556.7 1404.8,557.3 1406.3,558.0 1407.8,558.7 1409.3,559.5 1410.8,560.3 1412.3,561.0 1413.8,561.7 1415.3,562.3 1416.8,562.9 1418.3,563.3 1419.8,563.7 1421.3,564.0 1422.8,564.3 1424.3,564.5 1425.8,564.6 1427.3,564.6 1428.8,564.6 1430.3,564.5 1431.8,564.4 1433.3,564.2 1434.8,564.0 1436.3,563.7 1437.8,563.4 1439.3,563.0 1440.8,562.6 1442.3,562.2 1443.8,561.8 1445.3,561.3 1446.8,560.8 1448.3,560.3 1449.8,559.8 1451.3,559.2 1452.8,558.7 1454.3,558.1 1455.8,557.6 1457.3,557.0 1458.8,556.5 1460.3,556.0 1461.8,555.4 1463.3,554.9 1464.8,554.5 1466.3,554.0 1467.8,553.6 1469.3,553.2 1470.8,552.8 1472.3,552.4 1473.8,552.1 1475.3,551.9 1476.8,551.7 1478.3,551.5 1479.8,551.4 1481.3,551.4 1482.8,551.4 1484.3,551.4 1485.8,551.6 1487.3,551.8 1488.5,552.0" fill="none" stroke="#CC60CC" stroke-width="3.40" stroke-linejoin="round" stroke-linecap="round"/>
<path d="M1083.8,596.7 1085.3,596.8 1086.8,596.9 1088.3,597.1 1089.8,597.2 1091.3,597.4 1092.8,597.6 1094.3,597.8 1095.8,598.0 1097.3,598.2 1098.8,598.4 1100.3,598.5 1101.8,598.6 1103.3,598.7 1104.8,598.7 1106.3,598.7 1107.8,598.6 1109.3,598.5 1110.8,598.3 1112.3,598.1 1113.8,597.8 1115.3,597.4 1116.8,597.1 1118.3,596.6 1119.8,596.1 1121.3,595.6 1122.8,595.1 1124.3,594.5 1125.8,593.9 1127.3,593.2 1128.8,592.5 1130.3,591.8 1131.8,591.1 1133.3,590.4 1134.8,589.6 1136.3,588.8 1137.8,588.0 1139.3,587.2 1140.8,586.4 1142.3,585.6 1143.8,584.8 1145.3,584.0 1146.8,583.2 1148.3,582.4 1149.8,581.6 1151.3,580.8 1152.8,580.0 1154.3,579.2 1155.8,578.4 1157.3,577.7 1158.8,577.0 1160.3,576.3 1161.8,575.6 1163.3,574.9 1164.8,574.3 1166.3,573.7 1167.8,573.1 1169.3,572.6 1170.8,572.1 1172.3,571.6 1173.8,571.1 1175.3,570.8 1176.8,570.4 1178.3,570.1 1179.8,569.8 1181.3,569.6 1182.8,569.5 1184.3,569.4 1185.8,569.3 1187.3,569.3 1188.8,569.4 1190.3,569.5 1191.8,569.7 1193.3,570.0 1194.8,570.3 1196.3,570.6 1197.8,571.0 1199.3,571.5 1200.8,572.0 1202.3,572.5 1203.8,573.1 1205.3,573.7 1206.8,574.3 1208.3,575.0 1209.8,575.8 1211.3,576.5 1212.8,577.3 1214.3,578.1 1215.8,578.9 1217.3,579.8 1218.8,580.6 1220.3,581.5 1221.8,582.4 1223.3,583.3 1224.8,584.2 1226.3,585.1 1227.8,586.0 1229.3,587.0 1230.8,587.9 1232.3,588.9 1233.8,589.9 1235.3,590.9 1236.8,591.9 1238.3,592.9 1239.8,594.0 1241.3,595.1 1242.8,596.2 1244.3,597.3 1245.8,598.4 1247.3,599.6 1248.8,600.8 1250.3,602.0 1251.8,603.3 1253.3,604.6 1254.8,605.9 1256.3,607.3 1257.8,608.6 1259.3,610.0 1260.8,611.5 1262.3,612.9 1263.8,614.3 1265.3,615.7 1266.8,617.1 1268.3,618.5 1269.8,619.9 1271.3,621.2 1272.8,622.5 1274.3,623.7 1275.8,624.9 1277.3,626.0 1278.8,627.0 1280.3,628.0 1281.8,628.9 1283.3,629.7 1284.8,630.4 1286.3,631.0 1287.8,631.5 1289.3,631.8 1290.8,632.1 1292.3,632.2 1293.8,632.2 1295.3,632.0 1296.8,631.7 1298.3,631.2 1299.8,630.7 1301.3,630.0 1302.8,629.2 1304.3,628.4 1305.8,627.4 1307.3,626.5 1308.8,625.4 1310.3,624.3 1311.8,623.3 1313.3,622.1 1314.8,621.0 1316.3,619.9 1317.8,618.9 1319.3,617.8 1320.8,616.8 1322.3,615.9 1323.8,615.0 1325.3,614.1 1326.8,613.3 1328.3,612.5 1329.8,611.8 1331.3,611.1 1332.8,610.4 1334.3,609.8 1335.8,609.2 1337.3,608.7 1338.8,608.2 1340.3,607.7 1341.8,607.3 1343.3,606.8 1344.8,606.4 1346.3,606.1 1347.8,605.7 1349.3,605.4 1350.8,605.1 1352.3,604.9 1353.8,604.6 1355.3,604.4 1356.8,604.2 1358.3,603.9 1359.8,603.7 1361.3,603.5 1362.8,603.4 1364.3,603.2 1365.8,603.0 1367.3,602.8 1368.8,602.6 1370.3,602.4 1371.8,602.2 1373.3,602.0 1374.8,601.7 1376.3,601.5 1377.8,601.2 1379.3,600.9 1380.8,600.6 1382.3,600.3 1383.8,599.9 1385.3,599.5 1386.8,599.1 1388.3,598.6 1389.8,598.1 1391.3,597.7 1392.8,597.2 1394.3,596.9 1395.8,596.6 1397.3,596.3 1398.8,596.2 1400.3,596.2 1401.8,596.4 1403.3,596.6 1404.8,597.0 1406.3,597.4 1407.8,597.9 1409.3,598.3 1410.8,598.8 1412.3,599.2 1413.8,599.6 1415.3,599.9 1416.8,600.2 1418.3,600.4 1419.8,600.6 1421.3,600.7 1422.8,600.8 1424.3,600.9 1425.8,600.9 1427.3,600.9 1428.8,600.8 1430.3,600.8 1431.8,600.7 1433.3,600.5 1434.8,600.4 1436.3,600.2 1437.8,600.0 1439.3,599.8 1440.8,599.6 1442.3,599.3 1443.8,599.1 1445.3,598.8 1446.8,598.5 1448.3,598.2 1449.8,597.9 1451.3,597.7 1452.8,597.4 1454.3,597.1 1455.8,596.8 1457.3,596.5 1458.8,596.2 1460.3,595.9 1461.8,595.7 1463.3,595.4 1464.8,595.2 1466.3,594.9 1467.8,594.7 1469.3,594.5 1470.8,594.3 1472.3,594.2 1473.8,594.0 1475.3,593.9 1476.8,593.8 1478.3,593.8 1479.8,593.7 1481.3,593.7 1482.8,593.8 1484.3,593.8 1485.8,593.9 1487.3,594.1 1488.5,594.2" fill="none" stroke="#2E982E" stroke-width="3.40" stroke-linejoin="round" stroke-linecap="round"/>
<path d="M1083.8,615.0 1085.3,614.9 1086.8,614.9 1088.3,615.0 1089.8,615.1 1091.3,615.4 1092.8,615.8 1094.3,616.2 1095.8,616.7 1097.3,617.3 1098.8,618.0 1100.3,618.7 1101.8,619.5 1103.3,620.4 1104.8,621.3 1106.3,622.3 1107.8,623.3 1109.3,624.4 1110.8,625.6 1112.3,626.7 1113.8,628.0 1115.3,629.2 1116.8,630.5 1118.3,631.9 1119.8,633.2 1121.3,634.6 1122.8,636.0 1124.3,637.5 1125.8,638.9 1127.3,640.4 1128.8,641.9 1130.3,643.4 1131.8,644.9 1133.3,646.5 1134.8,648.1 1136.3,649.7 1137.8,651.3 1139.3,652.9 1140.8,654.6 1142.3,656.3 1143.8,658.0 1145.3,659.8 1146.8,661.5 1148.3,663.3 1149.8,665.1 1151.3,666.9 1152.8,668.8 1154.3,670.7 1155.8,672.6 1157.3,674.7 1158.8,676.8 1160.3,679.2 1161.8,681.8 1163.3,684.6 1164.0,686.0" fill="none" stroke="#000" stroke-width="3.60" stroke-linejoin="round" stroke-linecap="round"/>
<path d="M1083.8,621.8 1085.3,622.0 1086.8,622.3 1088.3,622.7 1089.8,623.2 1091.3,623.8 1092.8,624.4 1094.3,625.2 1095.8,626.0 1097.3,626.9 1098.8,628.0 1100.3,629.0 1101.8,630.2 1103.3,631.5 1104.8,632.8 1106.3,634.2 1107.8,635.7 1109.3,637.2 1110.8,638.9 1112.3,640.6 1113.8,642.3 1115.3,644.2 1116.8,646.1 1118.3,648.0 1119.8,650.1 1121.3,652.2 1122.8,654.3 1124.3,656.6 1125.8,658.9 1127.3,661.2 1128.8,663.6 1130.3,666.0 1131.8,668.6 1133.3,671.1 1134.8,673.7 1136.3,676.4 1137.8,679.1 1139.3,681.9 1140.8,684.7 1141.5,686.0" fill="none" stroke="#000" stroke-width="3.60" stroke-linejoin="round" stroke-linecap="round"/>
<path d="M1215.0,686.0 1216.5,684.6 1218.0,683.4 1219.5,682.3 1221.0,681.3 1222.5,680.4 1224.0,679.6 1225.5,678.9 1227.0,678.2 1228.5,677.6 1230.0,677.1 1231.5,676.5 1233.0,676.0 1234.5,675.5 1236.0,675.0 1237.5,674.6 1239.0,674.2 1240.5,673.7 1242.0,673.4 1243.5,673.0 1245.0,672.7 1246.5,672.4 1248.0,672.1 1249.5,671.9 1251.0,671.6 1252.5,671.5 1254.0,671.3 1255.5,671.2 1257.0,671.1 1258.5,671.0 1260.0,671.0 1261.5,670.9 1263.0,671.0 1264.5,671.0 1266.0,671.1 1267.5,671.3 1269.0,671.5 1270.5,671.8 1272.0,672.1 1273.5,672.5 1275.0,672.9 1276.5,673.4 1278.0,674.0 1279.5,674.7 1281.0,675.4 1282.5,676.3 1284.0,677.2 1285.5,678.2 1287.0,679.4 1288.5,680.6 1290.0,681.9 1291.5,683.3 1293.0,684.9 1294.0,686.0" fill="none" stroke="#000" stroke-width="3.60" stroke-linejoin="round" stroke-linecap="round"/>
<path d="M1294.5,686.0 1296.0,684.3 1297.5,682.7 1299.0,681.2 1300.5,679.8 1302.0,678.5 1303.5,677.2 1305.0,676.1 1306.5,674.9 1308.0,673.9 1309.5,672.9 1311.0,671.9 1312.5,671.0 1314.0,670.2 1315.5,669.3 1317.0,668.5 1318.5,667.7 1320.0,667.0 1321.5,666.2 1323.0,665.5 1324.5,664.8 1326.0,664.0 1327.5,663.3 1329.0,662.6 1330.5,661.8 1332.0,661.0 1333.5,660.2 1335.0,659.4 1336.5,658.5 1338.0,657.6 1339.5,656.7 1341.0,655.7 1342.5,654.6 1344.0,653.5 1345.5,652.3 1347.0,651.0 1348.5,649.7 1350.0,648.3 1351.5,646.9 1353.0,645.4 1354.5,643.9 1356.0,642.3 1357.5,640.7 1359.0,639.1 1360.5,637.5 1362.0,635.9 1363.5,634.4 1365.0,632.8 1366.5,631.3 1368.0,629.8 1369.5,628.3 1371.0,626.9 1372.5,625.5 1374.0,624.3 1375.5,623.1 1377.0,621.9 1378.5,620.9 1380.0,619.9 1381.5,619.0 1383.0,618.2 1384.5,617.6 1386.0,616.9 1387.5,616.4 1389.0,616.0 1390.5,615.6 1392.0,615.2 1393.5,615.0 1395.0,614.8 1396.5,614.6 1398.0,614.5 1399.5,614.4 1401.0,614.4 1402.5,614.5 1404.0,614.6 1405.5,614.8 1407.0,615.0 1408.5,615.3 1410.0,615.7 1411.5,616.2 1413.0,616.7 1414.5,617.2 1416.0,617.9 1417.5,618.6 1419.0,619.4 1420.5,620.3 1422.0,621.3 1423.5,622.3 1425.0,623.4 1426.5,624.5 1428.0,625.7 1429.5,626.9 1431.0,628.2 1432.5,629.5 1434.0,630.9 1435.5,632.3 1437.0,633.7 1438.5,635.2 1440.0,636.7 1441.5,638.2 1443.0,639.7 1444.5,641.2 1446.0,642.7 1447.5,644.3 1449.0,645.8 1450.5,647.3 1452.0,648.9 1453.5,650.4 1455.0,651.9 1456.5,653.3 1458.0,654.8 1459.5,656.2 1461.0,657.6 1462.5,659.0 1464.0,660.4 1465.5,661.7 1467.0,662.9 1468.5,664.1 1470.0,665.3 1471.5,666.4 1473.0,667.4 1474.5,668.4 1476.0,669.3 1477.5,670.2 1479.0,671.0 1480.5,671.7 1482.0,672.3 1483.5,672.9 1485.0,673.4 1486.5,673.7 1488.0,674.0 1488.5,674.1" fill="none" stroke="#000" stroke-width="3.60" stroke-linejoin="round" stroke-linecap="round"/>
<path d="M1341.5,686.0 1343.0,683.1 1344.5,680.3 1346.0,677.8 1347.5,675.4 1349.0,673.1 1350.5,670.9 1352.0,668.7 1353.5,666.6 1355.0,664.4 1356.5,662.3 1358.0,660.2 1359.5,658.1 1361.0,656.0 1362.5,653.9 1364.0,651.9 1365.5,649.8 1367.0,647.8 1368.5,645.8 1370.0,643.9 1371.5,642.0 1373.0,640.1 1374.5,638.4 1376.0,636.6 1377.5,635.0 1379.0,633.4 1380.5,631.9 1382.0,630.4 1383.5,629.1 1385.0,627.8 1386.5,626.7 1388.0,625.7 1389.5,624.8 1391.0,624.0 1392.5,623.3 1394.0,622.8 1395.5,622.4 1397.0,622.1 1398.5,621.9 1400.0,621.8 1401.5,621.9 1403.0,622.1 1404.5,622.4 1406.0,622.8 1407.5,623.4 1409.0,624.0 1410.5,624.8 1412.0,625.6 1413.5,626.6 1415.0,627.6 1416.5,628.8 1418.0,630.1 1419.5,631.4 1421.0,632.8 1422.5,634.4 1424.0,636.0 1425.5,637.7 1427.0,639.5 1428.5,641.3 1430.0,643.3 1431.5,645.3 1433.0,647.4 1434.5,649.5 1436.0,651.8 1437.5,654.1 1439.0,656.4 1440.5,658.8 1442.0,661.3 1443.5,663.9 1445.0,666.5 1446.5,669.1 1448.0,671.8 1449.5,674.6 1451.0,677.4 1452.5,680.2 1454.0,683.1 1455.5,686.0" fill="none" stroke="#000" stroke-width="3.60" stroke-linejoin="round" stroke-linecap="round"/>
<line x1="1189.00" y1="427.55" x2="1189.00" y2="682.75" stroke="#000" stroke-width="2.00" stroke-dasharray="9.8 8.74"/>
<line x1="1241.90" y1="427.55" x2="1241.90" y2="682.75" stroke="#000" stroke-width="2.00" stroke-dasharray="9.8 8.74"/>
<line x1="1294.40" y1="427.55" x2="1294.40" y2="682.75" stroke="#000" stroke-width="2.00" stroke-dasharray="9.8 8.74"/>
<line x1="1400.20" y1="427.55" x2="1400.20" y2="682.75" stroke="#000" stroke-width="2.00" stroke-dasharray="9.8 8.74"/>
</g>
<g clip-path="url(#ce)">
<path d="M1083.8,852.7 1085.3,850.3 1086.8,847.9 1088.3,845.3 1089.8,842.6 1091.3,839.9 1092.8,837.1 1094.3,834.2 1095.8,831.3 1097.3,828.3 1098.8,825.3 1100.3,822.3 1101.8,819.2 1103.3,816.1 1104.8,812.9 1106.3,809.8 1107.8,806.7 1109.3,803.5 1110.8,800.4 1112.3,797.3 1113.8,794.2 1115.3,791.1 1116.8,788.1 1118.3,785.1 1119.8,782.2 1121.3,779.3 1122.0,778.0" fill="none" stroke="#000" stroke-width="3.60" stroke-linejoin="round" stroke-linecap="round"/>
<path d="M1083.8,852.7 1085.3,854.0 1086.8,855.1 1088.3,855.9 1089.8,856.4 1091.3,856.8 1092.8,856.9 1094.3,856.9 1095.8,856.7 1097.3,856.4 1098.8,855.9 1100.3,855.3 1101.8,854.6 1103.3,853.9 1104.8,853.1 1106.3,852.2 1107.8,851.3 1109.3,850.3 1110.8,849.4 1112.3,848.4 1113.8,847.3 1115.3,846.3 1116.8,845.2 1118.3,844.1 1119.8,842.9 1121.3,841.8 1122.8,840.6 1124.3,839.5 1125.8,838.3 1127.3,837.1 1128.8,835.9 1130.3,834.8 1131.8,833.6 1133.3,832.4 1134.8,831.3 1136.3,830.1 1137.8,829.0 1139.3,827.9 1140.8,826.8 1142.3,825.7 1143.8,824.6 1145.3,823.6 1146.8,822.5 1148.3,821.5 1149.8,820.5 1151.3,819.4 1152.8,818.4 1154.3,817.4 1155.8,816.3 1157.3,815.3 1158.8,814.2 1160.3,813.1 1161.8,812.0 1163.3,810.8 1164.8,809.6 1166.3,808.4 1167.8,807.2 1169.3,805.9 1170.8,804.6 1172.3,803.2 1173.8,801.8 1175.3,800.3 1176.8,798.7 1178.3,797.2 1179.8,795.5 1181.3,793.8 1182.8,792.0 1184.3,790.1 1185.8,788.2 1187.3,786.2 1188.8,784.1 1189.0,783.8 1190.5,785.4 1192.0,786.9 1193.5,788.3 1195.0,789.7 1196.5,791.0 1198.0,792.2 1199.5,793.3 1201.0,794.4 1202.5,795.4 1204.0,796.3 1205.5,797.2 1207.0,798.0 1208.5,798.8 1210.0,799.5 1211.5,800.2 1213.0,800.8 1214.5,801.4 1216.0,801.9 1217.5,802.3 1219.0,802.7 1220.5,803.1 1222.0,803.5 1223.5,803.8 1225.0,804.0 1226.5,804.2 1228.0,804.4 1229.5,804.6 1231.0,804.7 1232.5,804.9 1234.0,804.9 1235.5,805.0 1237.0,805.0 1238.5,805.1 1240.0,805.1 1241.5,805.1 1243.0,805.0 1244.5,805.0 1246.0,805.0 1247.5,804.9 1249.0,804.8 1250.5,804.7 1252.0,804.5 1253.5,804.4 1255.0,804.2 1256.5,804.0 1258.0,803.7 1259.5,803.5 1261.0,803.1 1262.5,802.8 1264.0,802.4 1265.5,802.0 1267.0,801.5 1268.5,801.0 1270.0,800.5 1271.5,799.9 1273.0,799.2 1274.5,798.5 1276.0,797.8 1277.5,797.0 1279.0,796.1 1280.5,795.2 1282.0,794.2 1283.5,793.2 1285.0,792.1 1286.5,790.9 1288.0,789.7 1289.5,788.4 1291.0,787.1 1292.5,785.6 1294.0,784.1 1294.3,783.8 1295.8,785.7 1297.3,787.5 1298.8,789.3 1300.3,791.0 1301.8,792.7 1303.3,794.3 1304.8,795.8 1306.3,797.4 1307.8,798.9 1309.3,800.3 1310.8,801.7 1312.3,803.1 1313.8,804.4 1315.3,805.7 1316.8,806.9 1318.3,808.2 1319.8,809.4 1321.3,810.5 1322.8,811.7 1324.3,812.8 1325.8,813.9 1327.3,815.0 1328.8,816.1 1330.3,817.1 1331.8,818.1 1333.3,819.2 1334.8,820.2 1336.3,821.2 1337.8,822.2 1339.3,823.2 1340.8,824.2 1342.3,825.2 1343.8,826.2 1345.3,827.2 1346.8,828.2 1348.3,829.2 1349.8,830.2 1351.3,831.2 1352.8,832.3 1354.3,833.3 1355.8,834.4 1357.3,835.5 1358.8,836.6 1360.3,837.7 1361.8,838.8 1363.3,840.0 1364.8,841.2 1366.3,842.4 1367.8,843.6 1369.3,844.8 1370.8,846.1 1372.3,847.4 1373.8,848.7 1375.3,849.9 1376.8,851.1 1378.3,852.3 1379.8,853.4 1381.3,854.3 1382.8,855.2 1384.3,855.9 1385.8,856.5 1387.3,857.0 1388.8,857.3 1390.3,857.4 1391.8,857.4 1393.3,857.2 1394.8,856.9 1396.3,856.3 1397.8,855.6 1399.3,854.7 1400.8,853.6 1402.3,852.4 1403.8,851.0 1405.3,849.5 1406.8,847.9 1408.3,846.3 1409.8,844.6 1411.3,842.8 1412.8,841.0 1414.3,839.2 1415.8,837.5 1417.3,835.7 1418.8,833.9 1420.3,832.1 1421.8,830.2 1423.3,828.4 1424.8,826.5 1426.3,824.6 1427.8,822.7 1429.3,820.8 1430.8,818.9 1432.3,817.0 1433.8,815.1 1435.3,813.2 1436.8,811.3 1438.3,809.5 1439.8,807.7 1441.3,806.0 1442.8,804.3 1444.3,802.7 1445.8,801.1 1447.3,799.6 1448.8,798.3 1450.3,797.0 1451.8,795.8 1453.3,794.7 1454.8,793.7 1456.3,792.8 1457.8,792.0 1459.3,791.4 1460.8,790.9 1462.3,790.6 1463.8,790.4 1465.3,790.3 1466.8,790.5 1468.3,790.7 1469.8,791.1 1471.3,791.6 1472.8,792.3 1474.3,793.0 1475.8,793.8 1477.3,794.6 1478.8,795.5 1480.3,796.4 1481.8,797.4 1483.3,798.3 1484.8,799.2 1486.3,800.1 1487.8,800.9 1488.5,801.3" fill="none" stroke="#000" stroke-width="3.60" stroke-linejoin="round" stroke-linecap="round"/>
<path d="M1361.0,778.0 1362.5,783.2 1364.0,787.6 1365.5,791.3 1367.0,794.5 1368.5,797.3 1370.0,800.0 1371.5,802.7 1373.0,805.6 1374.5,808.8 1376.0,812.2 1377.5,815.7 1379.0,819.3 1380.5,822.9 1382.0,826.4 1383.5,829.6 1385.0,832.6 1386.5,835.3 1388.0,837.9 1389.5,840.2 1391.0,842.4 1392.5,844.4 1394.0,846.2 1395.5,847.8 1397.0,849.4 1398.5,850.8 1400.0,852.1 1401.5,853.3 1403.0,854.4 1404.5,855.2 1406.0,855.9 1407.5,856.2 1409.0,856.1 1410.5,855.7 1412.0,855.0 1413.5,854.0 1415.0,852.6 1416.5,851.0 1418.0,849.2 1419.5,847.1 1421.0,844.8 1422.5,842.4 1424.0,839.8 1425.5,837.1 1427.0,834.3 1428.5,831.3 1430.0,828.4 1431.5,825.3 1433.0,822.3 1434.5,819.3 1436.0,816.3 1437.5,813.4 1439.0,810.4 1440.5,807.5 1442.0,804.6 1443.5,801.7 1445.0,798.8 1446.5,795.8 1448.0,792.9 1449.5,789.9 1451.0,786.8 1452.5,783.6 1454.0,780.4 1455.0,778.0" fill="none" stroke="#000" stroke-width="3.60" stroke-linejoin="round" stroke-linecap="round"/>
<path d="M1083.8,902.8 1085.3,903.7 1086.8,904.6 1088.3,905.4 1089.8,906.0 1091.3,906.6 1092.8,907.2 1094.3,907.6 1095.8,908.0 1097.3,908.2 1098.8,908.5 1100.3,908.6 1101.8,908.7 1103.3,908.7 1104.8,908.7 1106.3,908.6 1107.8,908.5 1109.3,908.3 1110.8,908.0 1112.3,907.8 1113.8,907.4 1115.3,907.1 1116.8,906.7 1118.3,906.2 1119.8,905.7 1121.3,905.2 1122.8,904.7 1124.3,904.2 1125.8,903.6 1127.3,903.0 1128.8,902.4 1130.3,901.7 1131.8,901.1 1133.3,900.5 1134.8,899.8 1136.3,899.2 1137.8,898.5 1139.3,897.9 1140.8,897.2 1142.3,896.6 1143.8,895.9 1145.3,895.3 1146.8,894.6 1148.3,894.0 1149.8,893.4 1151.3,892.8 1152.8,892.2 1154.3,891.6 1155.8,891.0 1157.3,890.5 1158.8,889.9 1160.3,889.4 1161.8,888.9 1163.3,888.4 1164.8,888.0 1166.3,887.5 1167.8,887.1 1169.3,886.7 1170.8,886.4 1172.3,886.0 1173.8,885.7 1175.3,885.5 1176.8,885.2 1178.3,885.0 1179.8,884.8 1181.3,884.7 1182.8,884.6 1184.3,884.5 1185.8,884.5 1187.3,884.5 1188.8,884.6 1190.3,884.7 1191.8,884.8 1193.3,885.0 1194.8,885.3 1196.3,885.5 1197.8,885.8 1199.3,886.2 1200.8,886.5 1202.3,886.9 1203.8,887.4 1205.3,887.8 1206.8,888.3 1208.3,888.8 1209.8,889.4 1211.3,890.0 1212.8,890.5 1214.3,891.2 1215.8,891.8 1217.3,892.4 1218.8,893.1 1220.3,893.8 1221.8,894.5 1223.3,895.2 1224.8,895.9 1226.3,896.6 1227.8,897.3 1229.3,898.0 1230.8,898.6 1232.3,899.2 1233.8,899.7 1235.3,900.1 1236.8,900.4 1238.3,900.6 1239.8,900.7 1241.3,900.7 1242.8,900.5 1244.3,900.2 1245.8,899.8 1247.3,899.3 1248.8,898.6 1250.3,897.9 1251.8,897.2 1253.3,896.4 1254.8,895.6 1256.3,894.7 1257.8,893.8 1259.3,893.0 1260.8,892.2 1262.3,891.4 1263.8,890.7 1265.3,890.0 1266.8,889.4 1268.3,888.7 1269.8,888.2 1271.3,887.6 1272.8,887.1 1274.3,886.7 1275.8,886.3 1277.3,885.9 1278.8,885.5 1280.3,885.2 1281.8,885.0 1283.3,884.7 1284.8,884.5 1286.3,884.4 1287.8,884.2 1289.3,884.1 1290.8,884.1 1292.3,884.1 1293.8,884.1 1295.3,884.1 1296.8,884.2 1298.3,884.3 1299.8,884.4 1301.3,884.6 1302.8,884.8 1304.3,885.0 1305.8,885.3 1307.3,885.6 1308.8,885.9 1310.3,886.3 1311.8,886.7 1313.3,887.1 1314.8,887.6 1316.3,888.0 1317.8,888.5 1319.3,889.0 1320.8,889.6 1322.3,890.1 1323.8,890.7 1325.3,891.3 1326.8,891.9 1328.3,892.5 1329.8,893.1 1331.3,893.8 1332.8,894.4 1334.3,895.1 1335.8,895.7 1337.3,896.4 1338.8,897.0 1340.3,897.7 1341.8,898.4 1343.3,899.0 1344.8,899.7 1346.3,900.3 1347.8,900.9 1349.3,901.6 1350.8,902.2 1352.3,902.8 1353.8,903.4 1355.3,903.9 1356.8,904.5 1358.3,905.0 1359.8,905.5 1361.3,905.9 1362.8,906.3 1364.3,906.7 1365.8,907.0 1367.3,907.3 1368.8,907.5 1370.3,907.7 1371.8,907.9 1373.3,907.9 1374.8,907.9 1376.3,907.9 1377.8,907.8 1379.3,907.6 1380.8,907.3 1382.3,907.0 1383.8,906.6 1385.3,906.1 1386.8,905.6 1388.3,905.2 1389.8,904.7 1391.3,904.2 1392.8,903.8 1394.3,903.4 1395.8,903.0 1397.3,902.8 1398.8,902.6 1400.3,902.5 1401.8,902.6 1403.3,902.7 1404.8,903.1 1406.3,903.6 1407.8,904.3 1409.3,905.2 1410.8,906.3 1412.3,907.5 1413.8,908.7 1415.3,909.8 1416.8,910.7 1418.3,911.4 1419.8,911.9 1421.3,912.1 1422.8,912.1 1424.3,912.0 1425.8,911.7 1427.3,911.3 1428.8,910.9 1430.3,910.4 1431.8,909.9 1433.3,909.5 1434.8,909.1 1436.3,908.6 1437.8,908.2 1439.3,907.8 1440.8,907.4 1442.3,907.1 1443.8,906.7 1445.3,906.4 1446.8,906.1 1448.3,905.8 1449.8,905.5 1451.3,905.3 1452.8,905.1 1454.3,904.9 1455.8,904.7 1457.3,904.5 1458.8,904.4 1460.3,904.2 1461.8,904.1 1463.3,904.0 1464.8,903.8 1466.3,903.7 1467.8,903.5 1469.3,903.4 1470.8,903.2 1472.3,903.0 1473.8,902.9 1475.3,902.6 1476.8,902.4 1478.3,902.2 1479.8,901.9 1481.3,901.5 1482.8,901.2 1484.3,900.8 1485.8,900.4 1487.3,899.9 1488.5,899.5" fill="none" stroke="#CC60CC" stroke-width="3.40" stroke-linejoin="round" stroke-linecap="round"/>
<path d="M1083.8,911.6 1085.3,911.5 1086.8,911.5 1088.3,911.7 1089.8,911.9 1091.3,912.2 1092.8,912.7 1094.3,913.1 1095.8,913.7 1097.3,914.3 1098.8,914.9 1100.3,915.5 1101.8,916.1 1103.3,916.7 1104.8,917.3 1106.3,917.8 1107.8,918.3 1109.3,918.7 1110.8,919.1 1112.3,919.4 1113.8,919.7 1115.3,919.9 1116.8,920.0 1118.3,920.1 1119.8,920.2 1121.3,920.3 1122.8,920.3 1124.3,920.3 1125.8,920.3 1127.3,920.3 1128.8,920.2 1130.3,920.2 1131.8,920.1 1133.3,920.1 1134.8,920.0 1136.3,920.0 1137.8,919.9 1139.3,919.9 1140.8,919.9 1142.3,920.0 1143.8,920.0 1145.3,920.1 1146.8,920.2 1148.3,920.4 1149.8,920.6 1151.3,920.8 1152.8,921.0 1154.3,921.3 1155.8,921.6 1157.3,921.9 1158.8,922.2 1160.3,922.5 1161.8,922.9 1163.3,923.2 1164.8,923.6 1166.3,924.0 1167.8,924.3 1169.3,924.7 1170.8,925.0 1172.3,925.4 1173.8,925.7 1175.3,926.1 1176.8,926.4 1178.3,926.7 1179.8,927.0 1181.3,927.2 1182.8,927.5 1184.3,927.7 1185.8,927.8 1187.3,928.0 1188.8,928.1 1190.3,928.2 1191.8,928.2 1193.3,928.2 1194.8,928.2 1196.3,928.1 1197.8,927.9 1199.3,927.7 1200.8,927.5 1202.3,927.2 1203.8,926.8 1205.3,926.4 1206.8,925.9 1208.3,925.4 1209.8,924.8 1211.3,924.1 1212.8,923.4 1214.3,922.6 1215.8,921.8 1217.3,921.0 1218.8,920.1 1220.3,919.3 1221.8,918.4 1223.3,917.6 1224.8,916.7 1226.3,915.9 1227.8,915.1 1229.3,914.4 1230.8,913.7 1232.3,913.0 1233.8,912.5 1235.3,911.9 1236.8,911.5 1238.3,911.1 1239.8,910.9 1241.3,910.7 1242.8,910.7 1244.3,910.7 1245.8,910.9 1247.3,911.1 1248.8,911.5 1250.3,911.9 1251.8,912.4 1253.3,912.9 1254.8,913.5 1256.3,914.2 1257.8,914.9 1259.3,915.7 1260.8,916.5 1262.3,917.3 1263.8,918.1 1265.3,918.9 1266.8,919.7 1268.3,920.5 1269.8,921.3 1271.3,922.1 1272.8,922.9 1274.3,923.6 1275.8,924.2 1277.3,924.9 1278.8,925.4 1280.3,926.0 1281.8,926.5 1283.3,926.9 1284.8,927.3 1286.3,927.6 1287.8,927.9 1289.3,928.1 1290.8,928.3 1292.3,928.4 1293.8,928.4 1295.3,928.4 1296.8,928.4 1298.3,928.2 1299.8,928.1 1301.3,927.9 1302.8,927.6 1304.3,927.3 1305.8,927.0 1307.3,926.7 1308.8,926.4 1310.3,926.1 1311.8,925.8 1313.3,925.4 1314.8,925.1 1316.3,924.8 1317.8,924.5 1319.3,924.1 1320.8,923.8 1322.3,923.5 1323.8,923.2 1325.3,923.0 1326.8,922.7 1328.3,922.4 1329.8,922.2 1331.3,921.9 1332.8,921.7 1334.3,921.5 1335.8,921.3 1337.3,921.1 1338.8,921.0 1340.3,920.8 1341.8,920.7 1343.3,920.6 1344.8,920.5 1346.3,920.5 1347.8,920.4 1349.3,920.4 1350.8,920.4 1352.3,920.5 1353.8,920.5 1355.3,920.6 1356.8,920.6 1358.3,920.7 1359.8,920.6 1361.3,920.6 1362.8,920.5 1364.3,920.3 1365.8,920.1 1367.3,919.7 1368.8,919.3 1370.3,918.9 1371.8,918.4 1373.3,917.9 1374.8,917.3 1376.3,916.7 1377.8,916.1 1379.3,915.6 1380.8,915.0 1382.3,914.5 1383.8,914.0 1385.3,913.5 1386.8,913.0 1388.3,912.6 1389.8,912.2 1391.3,911.9 1392.8,911.6 1394.3,911.3 1395.8,911.1 1397.3,910.9 1398.8,910.8 1400.3,910.7 1401.8,910.6 1403.3,910.7 1404.8,910.7 1406.3,910.9 1407.8,911.0 1409.3,911.3 1410.8,911.6 1412.3,912.0 1413.8,912.4 1415.3,912.9 1416.8,913.4 1418.3,914.0 1419.8,914.6 1421.3,915.2 1422.8,915.8 1424.3,916.4 1425.8,917.0 1427.3,917.5 1428.8,918.0 1430.3,918.4 1431.8,918.8 1433.3,919.0 1434.8,919.2 1436.3,919.3 1437.8,919.3 1439.3,919.2 1440.8,919.0 1442.3,918.8 1443.8,918.4 1445.3,918.0 1446.8,917.6 1448.3,917.1 1449.8,916.5 1451.3,915.9 1452.8,915.2 1454.3,914.5 1455.8,913.8 1457.3,913.1 1458.8,912.4 1460.3,911.7 1461.8,911.0 1463.3,910.4 1464.8,909.7 1466.3,909.1 1467.8,908.6 1469.3,908.1 1470.8,907.7 1472.3,907.3 1473.8,907.0 1475.3,906.9 1476.8,906.8 1478.3,906.8 1479.8,906.9 1481.3,907.2 1482.8,907.5 1484.3,908.1 1485.8,908.7 1487.3,909.5 1488.5,910.3" fill="none" stroke="#2E982E" stroke-width="3.40" stroke-linejoin="round" stroke-linecap="round"/>
<path d="M1083.8,947.9 1085.3,947.5 1086.8,947.2 1088.3,947.1 1089.8,947.2 1091.3,947.3 1092.8,947.6 1094.3,948.0 1095.8,948.5 1097.3,949.1 1098.8,949.8 1100.3,950.6 1101.8,951.5 1103.3,952.4 1104.8,953.5 1106.3,954.6 1107.8,955.8 1109.3,957.1 1110.8,958.4 1112.3,959.7 1113.8,961.1 1115.3,962.6 1116.8,964.1 1118.3,965.6 1119.8,967.1 1121.3,968.7 1122.8,970.3 1124.3,971.8 1125.8,973.4 1127.3,975.0 1128.8,976.6 1130.3,978.1 1131.8,979.7 1133.3,981.2 1134.8,982.6 1136.3,984.1 1137.8,985.5 1139.3,986.8 1140.8,988.2 1142.3,989.4 1143.8,990.7 1145.3,991.9 1146.8,993.1 1148.3,994.3 1149.8,995.4 1151.3,996.5 1152.8,997.7 1154.3,998.8 1155.8,999.9 1157.3,1001.0 1158.8,1002.1 1160.3,1003.3 1161.8,1004.4 1163.3,1005.6 1164.8,1006.8 1166.3,1008.0 1167.8,1009.2 1169.3,1010.5 1170.8,1011.8 1172.3,1013.2 1173.8,1014.5 1175.3,1015.9 1176.8,1017.3 1178.3,1018.6 1179.8,1019.9 1181.3,1021.1 1182.8,1022.2 1184.3,1023.3 1185.8,1024.2 1187.3,1025.0 1188.8,1025.7 1189.0,1025.8 1190.5,1024.4 1192.0,1023.1 1193.5,1021.8 1195.0,1020.6 1196.5,1019.4 1198.0,1018.3 1199.5,1017.1 1201.0,1016.1 1202.5,1015.0 1204.0,1014.0 1205.5,1013.1 1207.0,1012.2 1208.5,1011.3 1210.0,1010.4 1211.5,1009.6 1213.0,1008.9 1214.5,1008.2 1216.0,1007.5 1217.5,1006.8 1219.0,1006.2 1220.5,1005.7 1222.0,1005.1 1223.5,1004.6 1225.0,1004.2 1226.5,1003.8 1228.0,1003.4 1229.5,1003.1 1231.0,1002.8 1232.5,1002.5 1234.0,1002.3 1235.5,1002.1 1237.0,1001.9 1238.5,1001.8 1240.0,1001.7 1241.5,1001.7 1243.0,1001.7 1244.5,1001.7 1246.0,1001.8 1247.5,1001.9 1249.0,1002.0 1250.5,1002.2 1252.0,1002.4 1253.5,1002.7 1255.0,1003.0 1256.5,1003.3 1258.0,1003.7 1259.5,1004.1 1261.0,1004.6 1262.5,1005.1 1264.0,1005.6 1265.5,1006.2 1267.0,1006.8 1268.5,1007.5 1270.0,1008.2 1271.5,1008.9 1273.0,1009.7 1274.5,1010.6 1276.0,1011.4 1277.5,1012.4 1279.0,1013.3 1280.5,1014.3 1282.0,1015.4 1283.5,1016.5 1285.0,1017.6 1286.5,1018.8 1288.0,1020.1 1289.5,1021.4 1291.0,1022.7 1292.5,1024.1 1294.0,1025.5 1294.3,1025.8 1295.8,1024.7 1297.3,1023.5 1298.8,1022.4 1300.3,1021.2 1301.8,1020.0 1303.3,1018.7 1304.8,1017.5 1306.3,1016.2 1307.8,1014.9 1309.3,1013.6 1310.8,1012.3 1312.3,1011.0 1313.8,1009.7 1315.3,1008.4 1316.8,1007.0 1318.3,1005.7 1319.8,1004.4 1321.3,1003.1 1322.8,1001.8 1324.3,1000.5 1325.8,999.2 1327.3,997.9 1328.8,996.7 1330.3,995.4 1331.8,994.2 1333.3,993.0 1334.8,991.8 1336.3,990.7 1337.8,989.5 1339.3,988.3 1340.8,987.1 1342.3,985.9 1343.8,984.7 1345.3,983.4 1346.8,982.2 1348.3,980.9 1349.8,979.6 1351.3,978.2 1352.8,976.8 1354.3,975.4 1355.8,974.0 1357.3,972.5 1358.8,971.1 1360.3,969.6 1361.8,968.1 1363.3,966.7 1364.8,965.2 1366.3,963.8 1367.8,962.4 1369.3,961.0 1370.8,959.7 1372.3,958.4 1373.8,957.2 1375.3,956.0 1376.8,954.8 1378.3,953.8 1379.8,952.8 1381.3,951.9 1382.8,951.0 1384.3,950.3 1385.8,949.6 1387.3,949.0 1388.8,948.5 1390.3,948.1 1391.8,947.7 1393.3,947.4 1394.8,947.2 1396.3,947.0 1397.8,946.8 1399.3,946.7 1400.8,946.6 1402.3,946.6 1403.8,946.6 1405.3,946.6 1406.8,946.7 1408.3,946.9 1409.8,947.1 1411.3,947.4 1412.8,947.8 1414.3,948.2 1415.8,948.7 1417.3,949.4 1418.8,950.1 1420.3,950.8 1421.8,951.7 1423.3,952.6 1424.8,953.6 1426.3,954.6 1427.8,955.7 1429.3,956.8 1430.8,958.0 1432.3,959.2 1433.8,960.4 1435.3,961.7 1436.8,963.0 1438.3,964.4 1439.8,965.7 1441.3,967.1 1442.8,968.5 1444.3,969.9 1445.8,971.3 1447.3,972.7 1448.8,974.1 1450.3,975.5 1451.8,976.9 1453.3,978.2 1454.8,979.6 1456.3,980.9 1457.8,982.2 1459.3,983.5 1460.8,984.8 1462.3,986.1 1463.8,987.3 1465.3,988.5 1466.8,989.7 1468.3,990.8 1469.8,991.9 1471.3,992.9 1472.8,994.0 1474.3,994.9 1475.8,995.9 1477.3,996.8 1478.8,997.6 1480.3,998.4 1481.8,999.2 1483.3,999.8 1484.8,1000.5 1486.3,1001.1 1487.8,1001.6 1488.5,1001.8" fill="none" stroke="#000" stroke-width="3.60" stroke-linejoin="round" stroke-linecap="round"/>
<path d="M1083.8,947.9 1085.3,948.3 1086.8,948.9 1088.3,949.5 1089.8,950.1 1091.3,950.9 1092.8,951.7 1094.3,952.6 1095.8,953.6 1097.3,954.7 1098.8,955.9 1100.3,957.2 1101.8,958.6 1103.3,960.1 1104.8,961.7 1106.3,963.4 1107.8,965.2 1109.3,967.2 1110.8,969.2 1112.3,971.4 1113.8,973.6 1115.3,975.9 1116.8,978.3 1118.3,980.7 1119.8,983.2 1121.3,985.7 1122.8,988.3 1124.3,990.9 1125.8,993.5 1127.3,996.1 1128.8,998.7 1130.3,1001.3 1131.8,1003.8 1133.3,1006.4 1134.8,1008.9 1136.3,1011.3 1137.8,1013.8 1139.3,1016.2 1140.8,1018.6 1142.3,1021.0 1143.8,1023.3 1145.3,1025.7 1146.8,1028.0 1148.3,1030.4 1149.8,1032.7 1151.3,1035.1 1152.8,1037.4 1154.3,1039.8 1155.0,1041.0" fill="none" stroke="#000" stroke-width="3.60" stroke-linejoin="round" stroke-linecap="round"/>
<path d="M1328.0,1041.0 1329.5,1038.0 1331.0,1035.0 1332.5,1032.1 1334.0,1029.1 1335.5,1026.2 1337.0,1023.2 1338.5,1020.3 1340.0,1017.4 1341.5,1014.6 1343.0,1011.8 1344.5,1009.0 1346.0,1006.2 1347.5,1003.5 1349.0,1000.8 1350.5,998.1 1352.0,995.5 1353.5,993.0 1355.0,990.5 1356.5,988.0 1358.0,985.6 1359.5,983.2 1361.0,980.9 1362.5,978.7 1364.0,976.5 1365.5,974.4 1367.0,972.3 1368.5,970.3 1370.0,968.4 1371.5,966.6 1373.0,964.8 1374.5,963.1 1376.0,961.5 1377.5,959.9 1379.0,958.5 1380.5,957.1 1382.0,955.8 1383.5,954.6 1385.0,953.4 1386.5,952.4 1388.0,951.5 1389.5,950.7 1391.0,950.0 1392.5,949.4 1394.0,948.9 1395.5,948.5 1397.0,948.3 1398.5,948.2 1400.0,948.2 1401.5,948.3 1403.0,948.6 1404.5,949.0 1406.0,949.6 1407.5,950.3 1409.0,951.1 1410.5,952.0 1412.0,953.0 1413.5,954.2 1415.0,955.5 1416.5,956.9 1418.0,958.5 1419.5,960.1 1421.0,961.9 1422.5,963.7 1424.0,965.6 1425.5,967.7 1427.0,969.8 1428.5,972.0 1430.0,974.3 1431.5,976.6 1433.0,979.0 1434.5,981.5 1436.0,984.0 1437.5,986.6 1439.0,989.2 1440.5,991.9 1442.0,994.6 1443.5,997.4 1445.0,1000.2 1446.5,1003.1 1448.0,1006.0 1449.5,1008.9 1451.0,1011.9 1452.5,1014.9 1454.0,1018.0 1455.5,1021.0 1457.0,1024.1 1458.5,1027.2 1460.0,1030.4 1461.5,1033.5 1463.0,1036.7 1464.5,1039.9 1465.0,1041.0" fill="none" stroke="#000" stroke-width="3.60" stroke-linejoin="round" stroke-linecap="round"/>
<line x1="1189.00" y1="782.00" x2="1189.00" y2="1037.20" stroke="#000" stroke-width="2.00" stroke-dasharray="9.8 8.74"/>
<line x1="1241.90" y1="782.00" x2="1241.90" y2="1037.20" stroke="#000" stroke-width="2.00" stroke-dasharray="9.8 8.74"/>
<line x1="1294.40" y1="782.00" x2="1294.40" y2="1037.20" stroke="#000" stroke-width="2.00" stroke-dasharray="9.8 8.74"/>
<line x1="1400.20" y1="782.00" x2="1400.20" y2="1037.20" stroke="#000" stroke-width="2.00" stroke-dasharray="9.8 8.74"/>
</g>
<rect x="77.18" y="39.68" width="367.78" height="950.22" fill="none" stroke="#000" stroke-width="2.00"/>
<rect x="562.90" y="39.90" width="367.70" height="949.85" fill="none" stroke="#000" stroke-width="2.00"/>
<rect x="1083.60" y="73.00" width="405.00" height="255.20" fill="none" stroke="#000" stroke-width="1.90"/>
<rect x="1083.60" y="427.55" width="405.00" height="255.20" fill="none" stroke="#000" stroke-width="1.90"/>
<rect x="1083.60" y="782.00" width="405.00" height="255.20" fill="none" stroke="#000" stroke-width="1.90"/>
<line x1="97.86" y1="39.68" x2="97.86" y2="28.48" stroke="#000" stroke-width="1.90"/>
<line x1="97.86" y1="989.90" x2="97.86" y2="1001.10" stroke="#000" stroke-width="1.90"/>
<g font-family='"Liberation Sans", sans-serif' fill="#000"><text transform="translate(77.84 1028.00) scale(1.000 1.040)" font-size="26.50">-40</text></g>
<line x1="179.46" y1="39.68" x2="179.46" y2="28.48" stroke="#000" stroke-width="1.90"/>
<line x1="179.46" y1="989.90" x2="179.46" y2="1001.10" stroke="#000" stroke-width="1.90"/>
<g font-family='"Liberation Sans", sans-serif' fill="#000"><text transform="translate(159.44 1028.00) scale(1.000 1.040)" font-size="26.50">-20</text></g>
<line x1="261.07" y1="39.68" x2="261.07" y2="28.48" stroke="#000" stroke-width="1.90"/>
<line x1="261.07" y1="989.90" x2="261.07" y2="1001.10" stroke="#000" stroke-width="1.90"/>
<g font-family='"Liberation Sans", sans-serif' fill="#000"><text transform="translate(252.90 1028.00) scale(1.000 1.040)" font-size="26.50">0</text></g>
<line x1="342.68" y1="39.68" x2="342.68" y2="28.48" stroke="#000" stroke-width="1.90"/>
<line x1="342.68" y1="989.90" x2="342.68" y2="1001.10" stroke="#000" stroke-width="1.90"/>
<g font-family='"Liberation Sans", sans-serif' fill="#000"><text transform="translate(326.99 1028.00) scale(1.000 1.040)" font-size="26.50">20</text></g>
<line x1="424.28" y1="39.68" x2="424.28" y2="28.48" stroke="#000" stroke-width="1.90"/>
<line x1="424.28" y1="989.90" x2="424.28" y2="1001.10" stroke="#000" stroke-width="1.90"/>
<g font-family='"Liberation Sans", sans-serif' fill="#000"><text transform="translate(408.96 1028.00) scale(1.000 1.040)" font-size="26.50">40</text></g>
<line x1="77.18" y1="989.90" x2="65.98" y2="989.90" stroke="#000" stroke-width="1.90"/>
<g font-family='"Liberation Sans", sans-serif' fill="#000"><text transform="translate(45.30 998.50) scale(1.000 1.040)" font-size="26.50">0</text></g>
<line x1="77.18" y1="843.75" x2="65.98" y2="843.75" stroke="#000" stroke-width="1.90"/>
<g font-family='"Liberation Sans", sans-serif' fill="#000"><path transform="translate(45.56 852.35) scale(0.01294 -0.01288)" d="M763,0L583,0L583,1147Q518,1085 412,1023Q306,961 222,930L222,1104Q373,1175 486,1276Q599,1377 646,1472L763,1472Z"/></g>
<line x1="77.18" y1="697.60" x2="65.98" y2="697.60" stroke="#000" stroke-width="1.90"/>
<g font-family='"Liberation Sans", sans-serif' fill="#000"><text transform="translate(45.59 706.20) scale(1.000 1.040)" font-size="26.50">2</text></g>
<line x1="77.18" y1="551.45" x2="65.98" y2="551.45" stroke="#000" stroke-width="1.90"/>
<g font-family='"Liberation Sans", sans-serif' fill="#000"><text transform="translate(45.43 560.05) scale(1.000 1.040)" font-size="26.50">3</text></g>
<line x1="77.18" y1="405.30" x2="65.98" y2="405.30" stroke="#000" stroke-width="1.90"/>
<g font-family='"Liberation Sans", sans-serif' fill="#000"><text transform="translate(45.04 413.90) scale(1.000 1.040)" font-size="26.50">4</text></g>
<line x1="77.18" y1="259.15" x2="65.98" y2="259.15" stroke="#000" stroke-width="1.90"/>
<g font-family='"Liberation Sans", sans-serif' fill="#000"><text transform="translate(45.37 267.75) scale(1.000 1.040)" font-size="26.50">5</text></g>
<line x1="77.18" y1="113.00" x2="65.98" y2="113.00" stroke="#000" stroke-width="1.90"/>
<g font-family='"Liberation Sans", sans-serif' fill="#000"><text transform="translate(45.43 121.60) scale(1.000 1.040)" font-size="26.50">6</text></g>
<line x1="583.50" y1="39.90" x2="583.50" y2="28.70" stroke="#000" stroke-width="1.90"/>
<line x1="583.50" y1="989.75" x2="583.50" y2="1000.95" stroke="#000" stroke-width="1.90"/>
<g font-family='"Liberation Sans", sans-serif' fill="#000"><text transform="translate(563.48 1028.00) scale(1.000 1.040)" font-size="26.50">-40</text></g>
<line x1="665.10" y1="39.90" x2="665.10" y2="28.70" stroke="#000" stroke-width="1.90"/>
<line x1="665.10" y1="989.75" x2="665.10" y2="1000.95" stroke="#000" stroke-width="1.90"/>
<g font-family='"Liberation Sans", sans-serif' fill="#000"><text transform="translate(645.08 1028.00) scale(1.000 1.040)" font-size="26.50">-20</text></g>
<line x1="746.71" y1="39.90" x2="746.71" y2="28.70" stroke="#000" stroke-width="1.90"/>
<line x1="746.71" y1="989.75" x2="746.71" y2="1000.95" stroke="#000" stroke-width="1.90"/>
<g font-family='"Liberation Sans", sans-serif' fill="#000"><text transform="translate(738.54 1028.00) scale(1.000 1.040)" font-size="26.50">0</text></g>
<line x1="828.32" y1="39.90" x2="828.32" y2="28.70" stroke="#000" stroke-width="1.90"/>
<line x1="828.32" y1="989.75" x2="828.32" y2="1000.95" stroke="#000" stroke-width="1.90"/>
<g font-family='"Liberation Sans", sans-serif' fill="#000"><text transform="translate(812.63 1028.00) scale(1.000 1.040)" font-size="26.50">20</text></g>
<line x1="909.92" y1="39.90" x2="909.92" y2="28.70" stroke="#000" stroke-width="1.90"/>
<line x1="909.92" y1="989.75" x2="909.92" y2="1000.95" stroke="#000" stroke-width="1.90"/>
<g font-family='"Liberation Sans", sans-serif' fill="#000"><text transform="translate(894.60 1028.00) scale(1.000 1.040)" font-size="26.50">40</text></g>
<line x1="562.90" y1="946.71" x2="551.70" y2="946.71" stroke="#000" stroke-width="1.90"/>
<g font-family='"Liberation Sans", sans-serif' fill="#000"><text transform="translate(531.10 955.31) scale(1.000 1.040)" font-size="26.50">0</text></g>
<line x1="562.90" y1="773.97" x2="551.70" y2="773.97" stroke="#000" stroke-width="1.90"/>
<g font-family='"Liberation Sans", sans-serif' fill="#000"><path transform="translate(531.36 782.57) scale(0.01294 -0.01288)" d="M763,0L583,0L583,1147Q518,1085 412,1023Q306,961 222,930L222,1104Q373,1175 486,1276Q599,1377 646,1472L763,1472Z"/></g>
<line x1="562.90" y1="601.23" x2="551.70" y2="601.23" stroke="#000" stroke-width="1.90"/>
<g font-family='"Liberation Sans", sans-serif' fill="#000"><text transform="translate(531.39 609.83) scale(1.000 1.040)" font-size="26.50">2</text></g>
<line x1="562.90" y1="428.49" x2="551.70" y2="428.49" stroke="#000" stroke-width="1.90"/>
<g font-family='"Liberation Sans", sans-serif' fill="#000"><text transform="translate(531.23 437.09) scale(1.000 1.040)" font-size="26.50">3</text></g>
<line x1="562.90" y1="255.75" x2="551.70" y2="255.75" stroke="#000" stroke-width="1.90"/>
<g font-family='"Liberation Sans", sans-serif' fill="#000"><text transform="translate(530.84 264.35) scale(1.000 1.040)" font-size="26.50">4</text></g>
<line x1="562.90" y1="83.01" x2="551.70" y2="83.01" stroke="#000" stroke-width="1.90"/>
<g font-family='"Liberation Sans", sans-serif' fill="#000"><text transform="translate(531.17 91.61) scale(1.000 1.040)" font-size="26.50">5</text></g>
<line x1="1083.60" y1="314.05" x2="1072.40" y2="314.05" stroke="#000" stroke-width="1.80"/>
<g font-family='"Liberation Sans", sans-serif' fill="#000"><text transform="translate(1027.33 322.65) scale(1.000 1.040)" font-size="26.50">-40</text></g>
<line x1="1083.60" y1="257.41" x2="1072.40" y2="257.41" stroke="#000" stroke-width="1.80"/>
<g font-family='"Liberation Sans", sans-serif' fill="#000"><text transform="translate(1027.33 266.01) scale(1.000 1.040)" font-size="26.50">-20</text></g>
<line x1="1083.60" y1="200.77" x2="1072.40" y2="200.77" stroke="#000" stroke-width="1.80"/>
<g font-family='"Liberation Sans", sans-serif' fill="#000"><text transform="translate(1050.90 209.37) scale(1.000 1.040)" font-size="26.50">0</text></g>
<line x1="1083.60" y1="144.13" x2="1072.40" y2="144.13" stroke="#000" stroke-width="1.80"/>
<g font-family='"Liberation Sans", sans-serif' fill="#000"><text transform="translate(1036.16 152.73) scale(1.000 1.040)" font-size="26.50">20</text></g>
<line x1="1083.60" y1="87.49" x2="1072.40" y2="87.49" stroke="#000" stroke-width="1.80"/>
<g font-family='"Liberation Sans", sans-serif' fill="#000"><text transform="translate(1036.16 96.09) scale(1.000 1.040)" font-size="26.50">40</text></g>
<line x1="1083.60" y1="668.60" x2="1072.40" y2="668.60" stroke="#000" stroke-width="1.80"/>
<g font-family='"Liberation Sans", sans-serif' fill="#000"><text transform="translate(1027.33 677.20) scale(1.000 1.040)" font-size="26.50">-40</text></g>
<line x1="1083.60" y1="611.96" x2="1072.40" y2="611.96" stroke="#000" stroke-width="1.80"/>
<g font-family='"Liberation Sans", sans-serif' fill="#000"><text transform="translate(1027.33 620.56) scale(1.000 1.040)" font-size="26.50">-20</text></g>
<line x1="1083.60" y1="555.32" x2="1072.40" y2="555.32" stroke="#000" stroke-width="1.80"/>
<g font-family='"Liberation Sans", sans-serif' fill="#000"><text transform="translate(1050.90 563.92) scale(1.000 1.040)" font-size="26.50">0</text></g>
<line x1="1083.60" y1="498.68" x2="1072.40" y2="498.68" stroke="#000" stroke-width="1.80"/>
<g font-family='"Liberation Sans", sans-serif' fill="#000"><text transform="translate(1036.16 507.28) scale(1.000 1.040)" font-size="26.50">20</text></g>
<line x1="1083.60" y1="442.04" x2="1072.40" y2="442.04" stroke="#000" stroke-width="1.80"/>
<g font-family='"Liberation Sans", sans-serif' fill="#000"><text transform="translate(1036.16 450.64) scale(1.000 1.040)" font-size="26.50">40</text></g>
<line x1="1083.60" y1="1023.05" x2="1072.40" y2="1023.05" stroke="#000" stroke-width="1.80"/>
<g font-family='"Liberation Sans", sans-serif' fill="#000"><text transform="translate(1027.33 1031.65) scale(1.000 1.040)" font-size="26.50">-40</text></g>
<line x1="1083.60" y1="966.41" x2="1072.40" y2="966.41" stroke="#000" stroke-width="1.80"/>
<g font-family='"Liberation Sans", sans-serif' fill="#000"><text transform="translate(1027.33 975.01) scale(1.000 1.040)" font-size="26.50">-20</text></g>
<line x1="1083.60" y1="909.77" x2="1072.40" y2="909.77" stroke="#000" stroke-width="1.80"/>
<g font-family='"Liberation Sans", sans-serif' fill="#000"><text transform="translate(1050.90 918.37) scale(1.000 1.040)" font-size="26.50">0</text></g>
<line x1="1083.60" y1="853.13" x2="1072.40" y2="853.13" stroke="#000" stroke-width="1.80"/>
<g font-family='"Liberation Sans", sans-serif' fill="#000"><text transform="translate(1036.16 861.73) scale(1.000 1.040)" font-size="26.50">20</text></g>
<line x1="1083.60" y1="796.49" x2="1072.40" y2="796.49" stroke="#000" stroke-width="1.80"/>
<g font-family='"Liberation Sans", sans-serif' fill="#000"><text transform="translate(1036.16 805.09) scale(1.000 1.040)" font-size="26.50">40</text></g>
<g font-family='"Liberation Sans", sans-serif' fill="#000"><text transform="translate(196.03 1070.50) scale(1.000 1.040)" font-size="29.50">Bias (mV)</text></g>
<g font-family='"Liberation Sans", sans-serif' fill="#000"><text transform="translate(655.43 1070.50) scale(1.000 1.040)" font-size="29.50">Energy (meV)</text></g>
<g font-family='"Liberation Sans", sans-serif' fill="#000" transform="translate(29.3 517.3) rotate(-90)"><text x="-100.68" y="0.00" font-size="29.30">d</text><text x="-84.38" y="0.00" font-size="29.30" font-style="italic">I</text><text x="-76.24" y="0.00" font-size="29.30">/d</text><text x="-51.80" y="0.00" font-size="29.30" font-style="italic">V</text><text x="-24.12" y="0.00" font-size="29.30">(arb. unit)</text></g>
<g font-family='"Liberation Sans", sans-serif' fill="#000" transform="translate(516.0 517.0) rotate(-90)"><text transform="translate(-106.95 0.00) scale(1.000 1.020)" font-size="29.30">LDOS (arb. unit)</text></g>
<g font-family='"Liberation Sans", sans-serif' fill="#000" transform="translate(1012.9 202.00) rotate(-90)"><text transform="translate(-90.35 0.00) scale(1.000 1.020)" font-size="29.20">Energy (meV)</text></g>
<g font-family='"Liberation Sans", sans-serif' fill="#000" transform="translate(1012.9 556.55) rotate(-90)"><text transform="translate(-90.35 0.00) scale(1.000 1.020)" font-size="29.20">Energy (meV)</text></g>
<g font-family='"Liberation Sans", sans-serif' fill="#000" transform="translate(1012.9 911.00) rotate(-90)"><text transform="translate(-90.35 0.00) scale(1.000 1.020)" font-size="29.20">Energy (meV)</text></g>
<g font-family='"Liberation Sans", sans-serif' fill="#000"><text transform="translate(-1.66 22.10) scale(1.000 0.970)" font-size="29.50" font-weight="bold">a</text></g>
<g font-family='"Liberation Sans", sans-serif' fill="#000"><text transform="translate(484.86 22.10) scale(1.000 0.985)" font-size="29.50" font-weight="bold">b</text></g>
<g font-family='"Liberation Sans", sans-serif' fill="#000"><text transform="translate(990.85 22.10) scale(1.000 0.970)" font-size="29.50" font-weight="bold">c</text></g>
<g font-family='"Liberation Sans", sans-serif' fill="#000"><text transform="translate(990.79 377.30) scale(1.000 0.985)" font-size="29.50" font-weight="bold">d</text></g>
<g font-family='"Liberation Sans", sans-serif' fill="#000"><text transform="translate(990.35 730.50) scale(1.000 0.970)" font-size="29.50" font-weight="bold">e</text></g>
<g font-family='"Liberation Sans", sans-serif' fill="#000"><text x="93.94" y="75.00" font-size="29.50">ABAB</text></g>
<g font-family='"Liberation Sans", sans-serif' fill="#000"><text x="281.52" y="75.00" font-size="29.50">Experiment</text></g>
<g font-family='"Liberation Sans", sans-serif' fill="#000"><text transform="translate(315.76 201.10) scale(0.880 1.040)" font-size="26.50" font-style="italic">V</text><text transform="translate(331.31 212.10) scale(0.970 1.040)" font-size="20.00">G</text><text transform="translate(353.76 201.10) scale(1.000 1.040)" font-size="26.50">= 60 V</text></g>
<g font-family='"Liberation Sans", sans-serif' fill="#000"><text transform="translate(376.60 383.90) scale(1.000 1.040)" font-size="26.50">45 V</text></g>
<g font-family='"Liberation Sans", sans-serif' fill="#000"><text transform="translate(376.60 516.90) scale(1.000 1.040)" font-size="26.50">27 V</text></g>
<g font-family='"Liberation Sans", sans-serif' fill="#000"><path transform="translate(376.60 712.30) scale(0.01294 -0.01288)" d="M763,0L583,0L583,1147Q518,1085 412,1023Q306,961 222,930L222,1104Q373,1175 486,1276Q599,1377 646,1472L763,1472Z"/><text transform="translate(391.34 712.30) scale(1.000 1.040)" font-size="26.50" style="white-space:pre">5 V</text></g>
<g font-family='"Liberation Sans", sans-serif' fill="#000"><text transform="translate(391.34 887.30) scale(1.000 1.040)" font-size="26.50">0 V</text></g>
<g font-family='"Liberation Sans", sans-serif' fill="#CC6600"><text transform="translate(122.48 112.30) scale(1.000 1.020)" font-size="30.00">CFB</text></g>
<g font-family='"Liberation Sans", sans-serif' fill="#CC6600"><text transform="translate(176.18 299.00) scale(1.000 1.020)" font-size="30.00">CFB</text></g>
<g font-family='"Liberation Sans", sans-serif' fill="#CC6600"><text transform="translate(99.77 530.90) scale(1.000 1.020)" font-size="30.00">VFB</text></g>
<g font-family='"Liberation Sans", sans-serif' fill="#CC6600"><text transform="translate(220.58 492.10) scale(1.000 1.020)" font-size="30.00">CFB</text></g>
<g font-family='"Liberation Sans", sans-serif' fill="#CC6600"><text transform="translate(144.67 711.00) scale(1.000 1.020)" font-size="30.00">VFB</text></g>
<g font-family='"Liberation Sans", sans-serif' fill="#CC6600"><text transform="translate(233.28 653.80) scale(1.000 1.020)" font-size="30.00">CFB</text></g>
<g font-family='"Liberation Sans", sans-serif' fill="#CC6600"><text transform="translate(177.57 865.10) scale(1.000 1.020)" font-size="30.00">VFB</text></g>
<g font-family='"Liberation Sans", sans-serif' fill="#CC6600"><text transform="translate(254.78 819.50) scale(1.000 1.020)" font-size="30.00">CFB</text></g>
<g font-family='"Liberation Sans", sans-serif' fill="#000"><text x="579.84" y="75.00" font-size="29.50">ABAB</text></g>
<g font-family='"Liberation Sans", sans-serif' fill="#000"><text transform="translate(823.14 75.00) scale(1.000 0.980)" font-size="29.50">Theory</text></g>
<g font-family='"Liberation Sans", sans-serif' fill="#000"><text transform="translate(747.48 186.20) scale(1.000 1.040)" font-size="26.50" font-style="italic">E</text><text transform="translate(772.52 186.20) scale(1.000 1.040)" font-size="26.50">= 0.33 V/nm</text></g>
<g font-family='"Liberation Sans", sans-serif' fill="#000"><text transform="translate(799.66 215.80) scale(0.880 1.040)" font-size="26.50" font-style="italic">V</text><text transform="translate(815.21 226.80) scale(0.970 1.040)" font-size="20.00">G</text><text transform="translate(837.66 215.80) scale(1.000 1.040)" font-size="26.50">= 60 V</text></g>
<g font-family='"Liberation Sans", sans-serif' fill="#000"><text transform="translate(795.16 363.00) scale(1.000 1.040)" font-size="26.50">0.25 V/nm</text></g>
<g font-family='"Liberation Sans", sans-serif' fill="#000"><text transform="translate(860.60 394.60) scale(1.000 1.040)" font-size="26.50">45 V</text></g>
<g font-family='"Liberation Sans", sans-serif' fill="#000"><text transform="translate(795.16 533.90) scale(1.000 1.040)" font-size="26.50" style="white-space:pre">0.</text><path transform="translate(817.26 533.90) scale(0.01294 -0.01288)" d="M763,0L583,0L583,1147Q518,1085 412,1023Q306,961 222,930L222,1104Q373,1175 486,1276Q599,1377 646,1472L763,1472Z"/><text transform="translate(832.00 533.90) scale(1.000 1.040)" font-size="26.50" style="white-space:pre">5 V/nm</text></g>
<g font-family='"Liberation Sans", sans-serif' fill="#000"><text transform="translate(860.60 565.60) scale(1.000 1.040)" font-size="26.50">27 V</text></g>
<g font-family='"Liberation Sans", sans-serif' fill="#000"><text transform="translate(795.16 703.40) scale(1.000 1.040)" font-size="26.50">0.08 V/nm</text></g>
<g font-family='"Liberation Sans", sans-serif' fill="#000"><path transform="translate(860.60 735.60) scale(0.01294 -0.01288)" d="M763,0L583,0L583,1147Q518,1085 412,1023Q306,961 222,930L222,1104Q373,1175 486,1276Q599,1377 646,1472L763,1472Z"/><text transform="translate(875.34 735.60) scale(1.000 1.040)" font-size="26.50" style="white-space:pre">5 V</text></g>
<g font-family='"Liberation Sans", sans-serif' fill="#000"><text transform="translate(832.00 886.30) scale(1.000 1.040)" font-size="26.50">0 V/nm</text></g>
<g font-family='"Liberation Sans", sans-serif' fill="#000"><text transform="translate(875.34 917.90) scale(1.000 1.040)" font-size="26.50">0 V</text></g>
<g font-family='"Liberation Sans", sans-serif' fill="#CC60CC"><text transform="translate(637.08 115.60) scale(1.000 1.020)" font-size="30.00">CFB</text></g>
<g font-family='"Liberation Sans", sans-serif' fill="#CC60CC"><text transform="translate(665.18 291.20) scale(1.000 1.020)" font-size="30.00">CFB</text></g>
<g font-family='"Liberation Sans", sans-serif' fill="#2E982E"><text transform="translate(573.97 378.20) scale(1.000 1.020)" font-size="30.00">VFB</text></g>
<g font-family='"Liberation Sans", sans-serif' fill="#CC60CC"><text transform="translate(684.08 462.40) scale(1.000 1.020)" font-size="30.00">CFB</text></g>
<g font-family='"Liberation Sans", sans-serif' fill="#2E982E"><text transform="translate(626.87 542.70) scale(1.000 1.020)" font-size="30.00">VFB</text></g>
<g font-family='"Liberation Sans", sans-serif' fill="#CC60CC"><text transform="translate(730.28 634.70) scale(1.000 1.020)" font-size="30.00">CFB</text></g>
<g font-family='"Liberation Sans", sans-serif' fill="#2E982E"><text transform="translate(655.17 677.00) scale(1.000 1.020)" font-size="30.00">VFB</text></g>
<g font-family='"Liberation Sans", sans-serif' fill="#2E982E"><text transform="translate(665.97 820.00) scale(1.000 1.020)" font-size="30.00">VFB</text></g>
<g font-family='"Liberation Sans", sans-serif' fill="#CC60CC"><text transform="translate(758.48 865.90) scale(1.000 1.020)" font-size="30.00">CFB</text></g>
<g font-family='"Liberation Sans", sans-serif' fill="#000"><text transform="translate(1113.16 50.00) scale(0.950 1.040)" font-size="29.50" font-style="italic">V</text><text transform="translate(1131.85 62.50) scale(0.950 1.040)" font-size="22.00">G</text><text transform="translate(1156.30 50.00) scale(1.000 1.040)" font-size="29.50">= 60 V,</text><text transform="translate(1258.80 50.00) scale(1.000 1.040)" font-size="29.50" font-style="italic">E</text><text transform="translate(1286.68 50.00) scale(1.000 1.040)" font-size="29.50">= 0.33 V/nm</text></g>
<g font-family='"Liberation Sans", sans-serif' fill="#000"><text transform="translate(1113.16 405.20) scale(0.950 1.040)" font-size="29.50" font-style="italic">V</text><text transform="translate(1131.85 417.70) scale(0.950 1.040)" font-size="22.00">G</text><text transform="translate(1156.30 405.20) scale(1.000 1.040)" font-size="29.50">= 27 V,</text><text transform="translate(1258.80 405.20) scale(1.000 1.040)" font-size="29.50" font-style="italic">E</text><text transform="translate(1286.68 405.20) scale(1.000 1.040)" font-size="29.50" style="white-space:pre">= 0.</text><path transform="translate(1336.70 405.20) scale(0.01440 -0.01434)" d="M763,0L583,0L583,1147Q518,1085 412,1023Q306,961 222,930L222,1104Q373,1175 486,1276Q599,1377 646,1472L763,1472Z"/><text transform="translate(1353.11 405.20) scale(1.000 1.040)" font-size="29.50" style="white-space:pre">5 V/nm</text></g>
<g font-family='"Liberation Sans", sans-serif' fill="#000"><text transform="translate(1141.87 757.70) scale(0.950 1.040)" font-size="29.50" font-style="italic">V</text><text transform="translate(1160.56 770.20) scale(0.950 1.040)" font-size="22.00">G</text><text transform="translate(1185.01 757.70) scale(1.000 1.040)" font-size="29.50">= 0 V,</text><text transform="translate(1271.11 757.70) scale(1.000 1.040)" font-size="29.50" font-style="italic">E</text><text transform="translate(1298.98 757.70) scale(1.000 1.040)" font-size="29.50">= 0 V/nm</text></g>
<g font-family='"Liberation Sans", sans-serif' fill="#CC60CC"><text transform="translate(1425.98 231.30) scale(1.000 1.020)" font-size="30.00">CFB</text></g>
<g font-family='"Liberation Sans", sans-serif' fill="#2E982E"><text transform="translate(1427.64 312.70) scale(1.000 1.020)" font-size="30.00">VFB</text></g>
<g font-family='"Liberation Sans", sans-serif' fill="#CC60CC"><text transform="translate(1425.98 545.80) scale(1.000 1.020)" font-size="30.00">CFB</text></g>
<g font-family='"Liberation Sans", sans-serif' fill="#2E982E"><text transform="translate(1427.64 629.30) scale(1.000 1.020)" font-size="30.00">VFB</text></g>
<g font-family='"Liberation Sans", sans-serif' fill="#CC60CC"><text transform="translate(1425.98 893.30) scale(1.000 1.020)" font-size="30.00">CFB</text></g>
<g font-family='"Liberation Sans", sans-serif' fill="#2E982E"><text transform="translate(1427.64 947.10) scale(1.000 1.020)" font-size="30.00">VFB</text></g>
<g font-family='"Liberation Serif", serif' fill="#000"><text x="1073.54" y="1067.20" font-size="27.00">Γ</text></g>
<g font-family='"Liberation Serif", serif' fill="#000"><text x="1228.40" y="1067.20" font-size="27.00">M</text></g>
<g font-family='"Liberation Serif", serif' fill="#000"><text x="1391.24" y="1067.20" font-size="27.00">Γ</text></g>
<g font-family='"Liberation Serif", serif' fill="#000"><text x="1476.00" y="1067.20" font-size="27.00">M</text></g>
<g font-family='"Liberation Serif", serif' fill="#000"><text x="1172.82" y="1067.20" font-size="27.00">K</text></g>
<g font-family='"Liberation Serif", serif' fill="#000"><text x="1191.23" y="1078.20" font-size="29.50">+</text></g>
<g font-family='"Liberation Serif", serif' fill="#000"><text x="1279.32" y="1067.20" font-size="27.00">K</text></g>
<rect x="1299" y="1067.6" width="13.5" height="1.4" fill="#000"/>
<g clip-path="url(#ce)">
<path d="M1179.00,1043 Q1189.00,1029.5 1199.00,1043" fill="none" stroke="#000" stroke-width="3.40" stroke-linejoin="round" stroke-linecap="round"/>
<path d="M1284.40,1043 Q1294.40,1029.5 1304.40,1043" fill="none" stroke="#000" stroke-width="3.40" stroke-linejoin="round" stroke-linecap="round"/>
</g>
</svg></body></html>
